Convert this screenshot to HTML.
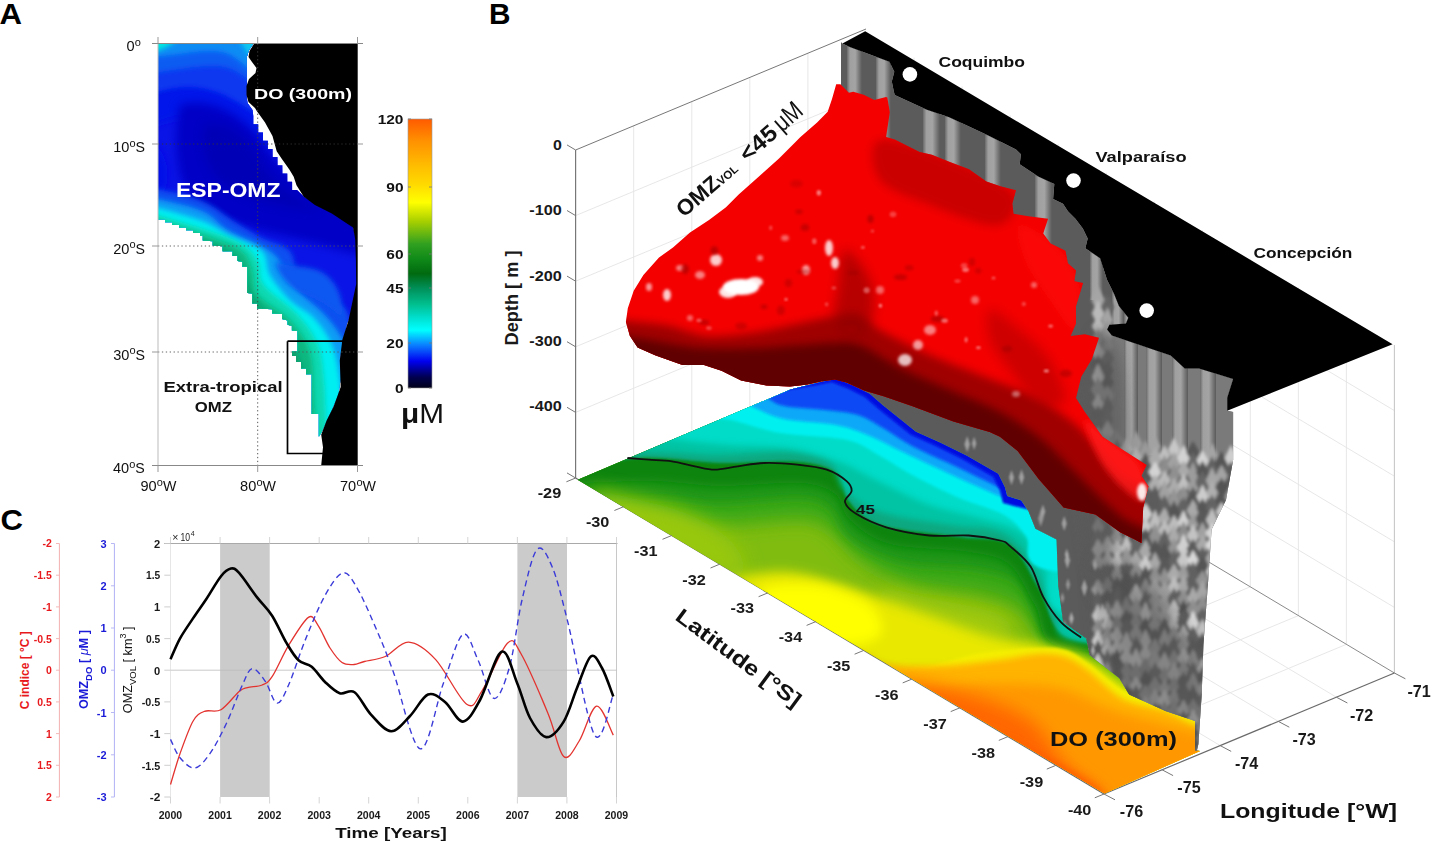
<!DOCTYPE html>
<html><head><meta charset="utf-8"><style>
html,body{margin:0;padding:0;background:#fff;width:1434px;height:849px;overflow:hidden}
svg{display:block}
text{font-family:"Liberation Sans",sans-serif}
.b{font-weight:bold}
.r{font-weight:normal}
.tk{font-weight:bold;fill:#1a1a1a}
</style></head><body>
<svg width="1434" height="849" viewBox="0 0 1434 849">
<rect width="1434" height="849" fill="#fff"/>
<text x="-0.5" y="24.3" class="b" font-size="30" fill="#000" textLength="22.5" lengthAdjust="spacingAndGlyphs">A</text>
<text x="489" y="24.3" class="b" font-size="30" fill="#000" textLength="21.5" lengthAdjust="spacingAndGlyphs">B</text>
<text x="0.5" y="529.8" class="b" font-size="30" fill="#000" textLength="22.5" lengthAdjust="spacingAndGlyphs">C</text>
<defs>
<filter id="fb8" x="-30%" y="-30%" width="160%" height="160%"><feGaussianBlur stdDeviation="9"/></filter>
<filter id="fb6" x="-30%" y="-30%" width="160%" height="160%"><feGaussianBlur stdDeviation="6"/></filter>
<filter id="fb4" x="-30%" y="-30%" width="160%" height="160%"><feGaussianBlur stdDeviation="4"/></filter>
<filter id="fb3" x="-30%" y="-30%" width="160%" height="160%"><feGaussianBlur stdDeviation="3"/></filter>
<filter id="fb2" x="-30%" y="-30%" width="160%" height="160%"><feGaussianBlur stdDeviation="1.6"/></filter>
<filter id="fb1" x="-30%" y="-30%" width="160%" height="160%"><feGaussianBlur stdDeviation="0.8"/></filter>
</defs>
<line x1="633.7" y1="125.8" x2="633.7" y2="453.8" stroke="#e4e4e4" stroke-width="0.9" />
<line x1="691.8" y1="101.6" x2="691.8" y2="429.6" stroke="#e4e4e4" stroke-width="0.9" />
<line x1="749.8" y1="77.4" x2="749.8" y2="405.4" stroke="#e4e4e4" stroke-width="0.9" />
<line x1="807.9" y1="53.2" x2="807.9" y2="381.2" stroke="#e4e4e4" stroke-width="0.9" />
<line x1="575.6" y1="215.6" x2="866" y2="94.6" stroke="#e4e4e4" stroke-width="0.9" />
<line x1="575.6" y1="281.2" x2="866" y2="160.2" stroke="#e4e4e4" stroke-width="0.9" />
<line x1="575.6" y1="346.8" x2="866" y2="225.8" stroke="#e4e4e4" stroke-width="0.9" />
<line x1="575.6" y1="412.4" x2="866" y2="291.4" stroke="#e4e4e4" stroke-width="0.9" />
<line x1="914" y1="57.7" x2="914" y2="385.7" stroke="#e4e4e4" stroke-width="0.9" />
<line x1="962.1" y1="86.5" x2="962.1" y2="414.5" stroke="#e4e4e4" stroke-width="0.9" />
<line x1="1010.1" y1="115.2" x2="1010.1" y2="443.2" stroke="#e4e4e4" stroke-width="0.9" />
<line x1="1058.2" y1="143.9" x2="1058.2" y2="471.9" stroke="#e4e4e4" stroke-width="0.9" />
<line x1="1106.2" y1="172.7" x2="1106.2" y2="500.6" stroke="#e4e4e4" stroke-width="0.9" />
<line x1="1154.2" y1="201.4" x2="1154.2" y2="529.4" stroke="#e4e4e4" stroke-width="0.9" />
<line x1="1202.3" y1="230.1" x2="1202.3" y2="558.1" stroke="#e4e4e4" stroke-width="0.9" />
<line x1="1250.3" y1="258.8" x2="1250.3" y2="586.8" stroke="#e4e4e4" stroke-width="0.9" />
<line x1="1298.4" y1="287.6" x2="1298.4" y2="615.6" stroke="#e4e4e4" stroke-width="0.9" />
<line x1="1346.4" y1="316.3" x2="1346.4" y2="644.3" stroke="#e4e4e4" stroke-width="0.9" />
<line x1="866" y1="94.6" x2="1394.4" y2="410.6" stroke="#e4e4e4" stroke-width="0.9" />
<line x1="866" y1="160.2" x2="1394.4" y2="476.2" stroke="#e4e4e4" stroke-width="0.9" />
<line x1="866" y1="225.8" x2="1394.4" y2="541.8" stroke="#e4e4e4" stroke-width="0.9" />
<line x1="866" y1="291.4" x2="1394.4" y2="607.4" stroke="#e4e4e4" stroke-width="0.9" />
<line x1="623.6" y1="506.7" x2="914" y2="385.7" stroke="#e4e4e4" stroke-width="0.9" />
<line x1="671.7" y1="535.5" x2="962.1" y2="414.5" stroke="#e4e4e4" stroke-width="0.9" />
<line x1="719.7" y1="564.2" x2="1010.1" y2="443.2" stroke="#e4e4e4" stroke-width="0.9" />
<line x1="767.8" y1="592.9" x2="1058.2" y2="471.9" stroke="#e4e4e4" stroke-width="0.9" />
<line x1="815.8" y1="621.6" x2="1106.2" y2="500.6" stroke="#e4e4e4" stroke-width="0.9" />
<line x1="863.8" y1="650.4" x2="1154.2" y2="529.4" stroke="#e4e4e4" stroke-width="0.9" />
<line x1="911.9" y1="679.1" x2="1202.3" y2="558.1" stroke="#e4e4e4" stroke-width="0.9" />
<line x1="959.9" y1="707.8" x2="1250.3" y2="586.8" stroke="#e4e4e4" stroke-width="0.9" />
<line x1="1008" y1="736.6" x2="1298.4" y2="615.6" stroke="#e4e4e4" stroke-width="0.9" />
<line x1="1056" y1="765.3" x2="1346.4" y2="644.3" stroke="#e4e4e4" stroke-width="0.9" />
<line x1="633.7" y1="453.8" x2="1162.1" y2="769.8" stroke="#e4e4e4" stroke-width="0.9" />
<line x1="691.8" y1="429.6" x2="1220.2" y2="745.6" stroke="#e4e4e4" stroke-width="0.9" />
<line x1="749.8" y1="405.4" x2="1278.3" y2="721.4" stroke="#e4e4e4" stroke-width="0.9" />
<line x1="807.9" y1="381.2" x2="1336.4" y2="697.2" stroke="#e4e4e4" stroke-width="0.9" />
<line x1="575.6" y1="150" x2="866" y2="29" stroke="#777" stroke-width="1.0" />
<line x1="1394.4" y1="345" x2="1394.4" y2="673" stroke="#c8c8c8" stroke-width="1.1" />
<line x1="866" y1="357" x2="1394.4" y2="673" stroke="#8a8a8a" stroke-width="1.0" />
<line x1="575.6" y1="150" x2="575.6" y2="478" stroke="#777" stroke-width="1.2" />
<line x1="575.6" y1="478" x2="1104" y2="794" stroke="#6a6a6a" stroke-width="1.2" />
<line x1="1104" y1="794" x2="1394.4" y2="673" stroke="#6a6a6a" stroke-width="1.2" />
<defs><clipPath id="floorclip"><path d="M577.8 479.8 L790.6 389.5 L820.2 382.2 L836.7 378.9 L853.2 385.5 L869.7 393.7 L882.9 405.3 L915.9 431.7 L940 442.4 L966.9 455.8 L998.2 473.7 L1004.9 487.2 L1007.2 496.1 L1021.2 500.5 L1028.3 511 L1035.4 528.7 L1056.5 539.4 L1058.2 585.6 L1063.1 621.9 L1086.2 638.4 L1089.5 654.9 L1119.2 678 L1129.1 694.5 L1165.4 711 L1195.1 720.9 L1195.1 750.6 L1200 751 L1104.5 793.5Z"/></clipPath></defs>
<g clip-path="url(#floorclip)"><rect x="560" y="360" width="660" height="450" fill="#80bc10"/><path d="M560 520 C573.3 519.2 613.3 514.2 640 515 C666.7 515.8 693.3 524.2 720 525 C746.7 525.8 781.7 519.2 800 520 C818.3 520.8 820 523.3 830 530 C840 536.7 846.7 550.8 860 560 C873.3 569.2 890 579.2 910 585 C930 590.8 961.7 590.8 980 595 C998.3 599.2 1009.2 601.7 1020 610 C1030.8 618.3 1035.8 634.2 1045 645 C1054.2 655.8 1045.8 668.3 1075 675 C1104.2 681.7 1195.8 683.3 1220 685 L1220 340 L560 340 Z" fill="#3aa818" filter="url(#fb8)"/><path d="M560 500 C575 499.5 623.3 496.5 650 497 C676.7 497.5 695 502.8 720 503 C745 503.2 781.7 497.2 800 498 C818.3 498.8 821.7 501.3 830 508 C838.3 514.7 838.3 529 850 538 C861.7 547 878.3 556.7 900 562 C921.7 567.3 960 566.2 980 570 C1000 573.8 1010 575.8 1020 585 C1030 594.2 1031.7 612.8 1040 625 C1048.3 637.2 1040 650.8 1070 658 C1100 665.2 1195 666.3 1220 668 L1220 340 L560 340 Z" fill="#1a9418" filter="url(#fb6)"/><path d="M560 484 C575 483.5 623.3 480.7 650 481 C676.7 481.3 695 485.7 720 486 C745 486.3 780.8 481.7 800 483 C819.2 484.3 826.7 487.8 835 494 C843.3 500.2 840.8 511.7 850 520 C859.2 528.3 870 538.7 890 544 C910 549.3 950 548.5 970 552 C990 555.5 999.2 556.2 1010 565 C1020.8 573.8 1025.8 591.2 1035 605 C1044.2 618.8 1034.2 640.5 1065 648 C1095.8 655.5 1194.2 649.7 1220 650 L1220 340 L560 340 Z" fill="#0a8410" filter="url(#fb4)"/><path d="M590 492 C593.3 487.8 623.3 496.2 640 500 C656.7 503.8 675 508.3 690 515 C705 521.7 720.8 530.8 730 540 C739.2 549.2 746.7 564.2 745 570 C743.3 575.8 732.5 577.5 720 575 C707.5 572.5 686.7 563.3 670 555 C653.3 546.7 633.3 535.5 620 525 C606.7 514.5 586.7 496.2 590 492Z" fill="#98c808" filter="url(#fb8)"/><path d="M880 590 C886.7 585.8 920 595.8 940 600 C960 604.2 988.3 608.3 1000 615 C1011.7 621.7 1016.7 635 1010 640 C1003.3 645 978.3 647.5 960 645 C941.7 642.5 913.3 634.2 900 625 C886.7 615.8 873.3 594.2 880 590Z" fill="#a8cc08" filter="url(#fb8)" opacity="0.8"/><path d="M560 470 C573.3 468 613.3 459.2 640 458 C666.7 456.8 693.3 462.3 720 463 C746.7 463.7 780 460 800 462 C820 464 832 468.7 840 475 C848 481.3 841.3 491.7 848 500 C854.7 508.3 861.3 518.8 880 525 C898.7 531.2 938.3 533.7 960 537 C981.7 540.3 996.7 536.2 1010 545 C1023.3 553.8 1029.2 574.2 1040 590 C1050.8 605.8 1045 630 1075 640 C1105 650 1195.8 648.3 1220 650 L1220 340 L560 340 Z" fill="#0ca880" filter="url(#fb2)"/><path d="M560 456 C575 455.3 623.3 452.2 650 452 C676.7 451.8 696.7 455 720 455 C743.3 455 771.7 450.8 790 452 C808.3 453.2 820.8 455.7 830 462 C839.2 468.3 836.7 481.7 845 490 C853.3 498.3 862.5 506.2 880 512 C897.5 517.8 930 521.7 950 525 C970 528.3 986.7 526.2 1000 532 C1013.3 537.8 1020.8 547 1030 560 C1039.2 573 1047.5 596.7 1055 610 C1062.5 623.3 1047.5 635 1075 640 C1102.5 645 1195.8 640 1220 640 L1220 340 L560 340 Z" fill="#00c4a4" filter="url(#fb3)"/><path d="M600 430 C613.3 431.7 658.3 437.5 680 440 C701.7 442.5 711.7 443.7 730 445 C748.3 446.3 771.7 445.2 790 448 C808.3 450.8 825 456.3 840 462 C855 467.7 865 474.8 880 482 C895 489.2 913.3 499 930 505 C946.7 511 965 513.5 980 518 C995 522.5 1009.2 524.2 1020 532 C1030.8 539.8 1037.5 551.2 1045 565 C1052.5 578.8 1035.8 605 1065 615 C1094.2 625 1194.2 623.3 1220 625 L1220 340 L600 340 Z" fill="#00dcc8" filter="url(#fb3)"/><path d="M700 420 C705 420 716.7 417.8 730 420 C743.3 422.2 760.5 429.7 780 433 C799.5 436.3 830.3 436.2 847 440 C863.7 443.8 868.8 450 880 456 C891.2 462 900.8 469 914 476 C927.2 483 944 491.5 959 498 C974 504.5 992.8 508.7 1004 515 C1015.2 521.3 1018.7 526.8 1026 536 C1033.3 545.2 1015.7 562.7 1048 570 C1080.3 577.3 1191.3 578.3 1220 580 L1220 340 L700 340 Z" fill="#00f0f0" filter="url(#fb2)"/><path d="M740 400 C746.7 403 764 413.8 780 418 C796 422.2 821 422 836 425 C851 428 858.8 431.5 870 436 C881.2 440.5 891.8 446.7 903 452 C914.2 457.3 924 462 937 468 C950 474 968.8 482.7 981 488 C993.2 493.3 1001.8 497.2 1010 500 C1018.2 502.8 995 504.2 1030 505 C1065 505.8 1188.3 505 1220 505 L1220 340 L740 340 Z" fill="#0aa8f8" filter="url(#fb2)"/><path d="M760 390 C763.3 392.5 769.2 401.7 780 405 C790.8 408.3 812 408.3 825 410 C838 411.7 848.3 412 858 415 C867.7 418 873.7 422.7 883 428 C892.3 433.3 901.3 440.3 914 447 C926.7 453.7 944 460.8 959 468 C974 475.2 993.8 484.7 1004 490 C1014.2 495.3 1014 498.7 1020 500 C1026 501.3 1006.7 498.3 1040 498 C1073.3 497.7 1190 498 1220 498 L1220 340 L760 340 Z" fill="#0a48f4" filter="url(#fb2)"/><path d="M790.6 387.2 L820.2 382.2 L836.7 378.9 L853.2 385.5 L869.7 393.7 L882.9 405.3 L915.9 431.7 L940 442.4 L966.9 455.8 L998.2 473.7 L1004.9 487.2 L1008 500 L1240 560 L1240 340 L780 340Z" fill="#0008e0" filter="url(#fb1)" transform="translate(-5 3)"/><path d="M735 578 C742.5 575 770.8 570.3 790 572 C809.2 573.7 828.3 581.3 850 588 C871.7 594.7 896.7 604 920 612 C943.3 620 968.3 630.3 990 636 C1011.7 641.7 1033.3 642.3 1050 646 C1066.7 649.7 1076.7 651 1090 658 C1103.3 665 1115 679 1130 688 C1145 697 1165.8 706.3 1180 712 C1194.2 717.7 1209.2 712.3 1215 722 C1220.8 731.7 1270.8 779 1215 770 C1159.2 761 958.3 698 880 668 C801.7 638 769.2 605 745 590 C720.8 575 727.5 581 735 578Z" fill="#e8e800" filter="url(#fb6)"/><path d="M760 590 C765 583.3 801.7 582.5 820 585 C838.3 587.5 860 596.7 870 605 C880 613.3 885 628.3 880 635 C875 641.7 855 646.7 840 645 C825 643.3 803.3 634.2 790 625 C776.7 615.8 755 596.7 760 590Z" fill="#ffff00" filter="url(#fb6)"/><path d="M560 600 C600 606.7 743.3 628.7 800 640 C856.7 651.3 869.8 665.8 900 668 C930.2 670.2 958 656.3 981 653 C1004 649.7 1023.8 648.5 1038 648 C1052.2 647.5 1057.5 647.3 1066 650 C1074.5 652.7 1079.5 657.3 1089 664 C1098.5 670.7 1110.3 683.2 1123 690 C1135.7 696.8 1148.8 700.8 1165 705 C1181.2 709.2 1210.8 713.3 1220 715 L1220 820 L560 820 Z" fill="#f4ee00" filter="url(#fb2)"/><path d="M560 600 C605 607.5 775.8 634.3 830 645 C884.2 655.7 866.7 660.5 885 664 C903.3 667.5 921.2 666.7 940 666 C958.8 665.3 981.7 662 998 660 C1014.3 658 1026.7 654.5 1038 654 C1049.3 653.5 1057.5 654.2 1066 657 C1074.5 659.8 1079.5 664 1089 671 C1098.5 678 1110.3 692.3 1123 699 C1135.7 705.7 1153.3 706.7 1165 711 C1176.7 715.3 1183.8 721.3 1193 725 C1202.2 728.7 1215.5 731.7 1220 733 L1220 820 L560 820 Z" fill="#ffb400" filter="url(#fb3)"/><path d="M560 615 C608.3 624.2 790 657.8 850 670 C910 682.2 896.7 685.7 920 688 C943.3 690.3 966.7 684 990 684 C1013.3 684 1038.3 683.3 1060 688 C1081.7 692.7 1093.3 703.7 1120 712 C1146.7 720.3 1203.3 733.7 1220 738 L1220 820 L560 820 Z" fill="#ff9800" filter="url(#fb6)"/><path d="M885 682 C893.3 678.2 935.8 685.7 960 692 C984.2 698.3 1012.5 707.8 1030 720 C1047.5 732.2 1052.7 751.7 1065 765 C1077.3 778.3 1114.8 799.2 1104 800 C1093.2 800.8 1032.3 784.2 1000 770 C967.7 755.8 929.2 729.7 910 715 C890.8 700.3 876.7 685.8 885 682Z" fill="#ff6600" filter="url(#fb8)"/><path d="M1000 740 C1001.7 735 1032.7 750.8 1050 760 C1067.3 769.2 1105.7 790 1104 795 C1102.3 800 1057.3 799.2 1040 790 C1022.7 780.8 998.3 745 1000 740Z" fill="#ff5a00" filter="url(#fb4)"/></g>
<path d="M627.4 458 C631 458.3 641.4 459.1 648.8 459.7 C656.2 460.2 664.2 460.2 671.9 461.3 C679.6 462.4 687.9 464.9 695 466.3 C702.1 467.7 707.6 469.6 714.7 469.6 C721.8 469.6 729.5 467.4 737.8 466.3 C746 465.2 754.3 463.3 764.2 463 C774.1 462.7 786.8 463.5 797.2 464.6 C807.6 465.7 818.6 466.9 826.8 469.6 C835 472.4 842.5 477.5 846.6 481.1 C850.7 484.7 851.9 487.5 851.6 491 C851.3 494.5 844.2 498.1 845 502 C845.8 505.9 849.6 509.9 856.5 514.1 C863.4 518.3 874.1 523.7 886.2 527.3 C898.3 530.9 915.4 534.1 929.1 535.5 C942.8 536.9 956.8 534.7 968.6 535.5 C980.4 536.3 993 538.7 1000 540.5 C1007 542.3 1005.2 542 1010.3 546.4 C1015.4 550.8 1025.1 558.2 1030.6 566.6 C1036.1 575 1038.2 587.6 1043.2 596.9 C1048.2 606.2 1054.6 615.5 1060.9 622.2 C1067.2 629 1077.7 634.9 1081.1 637.4" fill="none" stroke="#111" stroke-width="1.8"/>
<text x="856" y="513.5" class="b" font-size="13.5" fill="#111" textLength="19" lengthAdjust="spacingAndGlyphs">45</text>
<defs><clipPath id="wallclip"><path d="M841 42 L842.4 43.5 L849.8 47 L889.4 61.8 L894.3 71.7 L891.8 81.6 L893.5 90 L894.7 95 L926.9 109.8 L949.2 117.2 L988.8 135.8 L1016 149.4 L1020.9 154.3 L1019.7 164.2 L1038.2 176.6 L1054.3 184 L1053.1 198.9 L1063 203.8 L1067.9 211.2 L1075.4 218.7 L1082.8 228.6 L1087.7 238.5 L1085.3 248.3 L1100.1 258.2 L1107.1 280 L1114.1 294.1 L1118.9 305.9 L1128.3 317.7 L1125.9 323.6 L1109.4 324.8 L1107.1 329.5 L1111.8 335.4 L1135.3 343.6 L1170.7 355.4 L1184.8 368.4 L1199 368.4 L1217.8 374.3 L1233.1 379 L1227.2 397.8 L1227.2 410.8 L1233.1 412 L1233.1 460 L1226 500 L1211.6 529.5 L1208.3 579 L1203.4 645 L1201.7 694.5 L1198.4 744 L1196.8 751 L1200 751 L1195.1 750.6 L1195.1 720.9 L1165.4 711 L1129.1 694.5 L1119.2 678 L1089.5 654.9 L1086.2 638.4 L1063.1 621.9 L1058.2 585.6 L1056.5 539.4 L1035.4 528.7 L1028.3 511 L1021.2 500.5 L1007.2 496.1 L1004.9 487.2 L998.2 473.7 L966.9 455.8 L940 442.4 L915.9 431.7 L882.9 405.3 L869.7 393.7 L853.2 385.5 L836.7 378.9 L820.2 382.2 L790.6 387.2 L841 367Z"/></clipPath>
<linearGradient id="stripe" x1="0" y1="0" x2="1" y2="0"><stop offset="0" stop-color="#6a6a6a"/><stop offset="0.2" stop-color="#a0a0a0"/><stop offset="0.55" stop-color="#a4a4a4"/><stop offset="0.8" stop-color="#7a7a7a"/><stop offset="1" stop-color="#5a5a5a"/></linearGradient></defs>
<g clip-path="url(#wallclip)"><rect x="830" y="30" width="420" height="730" fill="#5b5b5b"/><path d="M1108 330 L1240 370 L1240 470 L1108 450 Z" fill="#7a7a7a" filter="url(#fb3)"/><rect x="847" y="30" width="15" height="90" fill="url(#stripe)"/><rect x="876" y="30" width="15" height="120" fill="url(#stripe)"/><rect x="923" y="30" width="17" height="160" fill="url(#stripe)"/><rect x="945" y="30" width="16" height="170" fill="url(#stripe)"/><rect x="985" y="30" width="16" height="200" fill="url(#stripe)"/><rect x="1035" y="30" width="17" height="240" fill="url(#stripe)"/><rect x="1090" y="30" width="13" height="270" fill="url(#stripe)"/><rect x="1112" y="30" width="12" height="300" fill="url(#stripe)"/><rect x="1124" y="30" width="14" height="420" fill="url(#stripe)"/><rect x="1146" y="30" width="16" height="425" fill="url(#stripe)"/><rect x="1172" y="30" width="16" height="430" fill="url(#stripe)"/><rect x="1200" y="30" width="16" height="440" fill="url(#stripe)"/><g filter="url(#fb2)"><path d="M1098 286.2 l6.7 13.8 l-6.7 13.8 l-6.7 -13.8 Z" fill="#a5a5a5"/><path d="M1098 299.4 l6.2 13.8 l-6.2 13.8 l-6.2 -13.8 Z" fill="#bababa"/><path d="M1098 315.2 l6.2 11 l-6.2 11 l-6.2 -11 Z" fill="#bcbcbc"/><path d="M1098 327.7 l5.8 11.1 l-5.8 11.1 l-5.8 -11.1 Z" fill="#8c8c8c"/><path d="M1098 342 l6.7 10.6 l-6.7 10.6 l-6.7 -10.6 Z" fill="#bebebe"/><path d="M1098 354.6 l6.8 10.8 l-6.8 10.8 l-6.8 -10.8 Z" fill="#505050"/><path d="M1098 363.2 l5.9 13.8 l-5.9 13.8 l-5.9 -13.8 Z" fill="#d7d7d7"/><path d="M1098 376.9 l6.9 12.8 l-6.9 12.8 l-6.9 -12.8 Z" fill="#939393"/><path d="M1098 392.9 l6 10.7 l-6 10.7 l-6 -10.7 Z" fill="#c3c3c3"/><path d="M1098 405 l6.4 10 l-6.4 10 l-6.4 -10 Z" fill="#575757"/><path d="M1098 416.1 l6.7 11.9 l-6.7 11.9 l-6.7 -11.9 Z" fill="#575757"/><path d="M1098 426.1 l5.6 13.9 l-5.6 13.9 l-5.6 -13.9 Z" fill="#a4a4a4"/><path d="M1098 437.9 l5.5 13.2 l-5.5 13.2 l-5.5 -13.2 Z" fill="#a9a9a9"/><path d="M1098 452.4 l5.6 10.7 l-5.6 10.7 l-5.6 -10.7 Z" fill="#8c8c8c"/><path d="M1098 463.2 l6.9 13.8 l-6.9 13.8 l-6.9 -13.8 Z" fill="#626262"/><path d="M1098 478.6 l6.7 10.4 l-6.7 10.4 l-6.7 -10.4 Z" fill="#9e9e9e"/><path d="M1098 488.5 l5.6 13.8 l-5.6 13.8 l-5.6 -13.8 Z" fill="#d7d7d7"/><path d="M1098 502.2 l6.9 11.4 l-6.9 11.4 l-6.9 -11.4 Z" fill="#5f5f5f"/><path d="M1098 516.6 l6 10.7 l-6 10.7 l-6 -10.7 Z" fill="#969696"/><path d="M1098 527.9 l7 10.6 l-7 10.6 l-7 -10.6 Z" fill="#616161"/><path d="M1098 538.8 l6.1 10.9 l-6.1 10.9 l-6.1 -10.9 Z" fill="#cbcbcb"/><path d="M1098 552.3 l6.1 10.2 l-6.1 10.2 l-6.1 -10.2 Z" fill="#c8c8c8"/><path d="M1098 565.7 l6.8 10.5 l-6.8 10.5 l-6.8 -10.5 Z" fill="#5c5c5c"/><path d="M1098 579 l6.7 10.4 l-6.7 10.4 l-6.7 -10.4 Z" fill="#cfcfcf"/><path d="M1098 589.9 l5.9 11.8 l-5.9 11.8 l-5.9 -11.8 Z" fill="#656565"/><path d="M1098 603.8 l6.2 12 l-6.2 12 l-6.2 -12 Z" fill="#dbdbdb"/><path d="M1098 618.3 l6.1 10.6 l-6.1 10.6 l-6.1 -10.6 Z" fill="#969696"/><path d="M1098 629.1 l6.4 12 l-6.4 12 l-6.4 -12 Z" fill="#dadada"/><path d="M1098 639.6 l6.7 13.5 l-6.7 13.5 l-6.7 -13.5 Z" fill="#565656"/><path d="M1098 652.5 l6.5 12.7 l-6.5 12.7 l-6.5 -12.7 Z" fill="#d4d4d4"/><path d="M1098 666.5 l5.9 11.9 l-5.9 11.9 l-5.9 -11.9 Z" fill="#a4a4a4"/><path d="M1098 679.2 l6.9 12.6 l-6.9 12.6 l-6.9 -12.6 Z" fill="#969696"/><path d="M1098 691.8 l5.9 12.7 l-5.9 12.7 l-5.9 -12.7 Z" fill="#5d5d5d"/><path d="M1098 705.5 l6.7 11.4 l-6.7 11.4 l-6.7 -11.4 Z" fill="#cfcfcf"/><path d="M1098 716.4 l6 13.4 l-6 13.4 l-6 -13.4 Z" fill="#a8a8a8"/><path d="M1098 731.4 l6.9 12.1 l-6.9 12.1 l-6.9 -12.1 Z" fill="#aeaeae"/><path d="M1107.5 295.1 l6.9 11.9 l-6.9 11.9 l-6.9 -11.9 Z" fill="#646464"/><path d="M1107.5 307 l5.8 13.1 l-5.8 13.1 l-5.8 -13.1 Z" fill="#a5a5a5"/><path d="M1107.5 319.7 l6.4 13.1 l-6.4 13.1 l-6.4 -13.1 Z" fill="#9a9a9a"/><path d="M1107.5 334 l5.7 11.8 l-5.7 11.8 l-5.7 -11.8 Z" fill="#8c8c8c"/><path d="M1107.5 348.5 l6.4 10.2 l-6.4 10.2 l-6.4 -10.2 Z" fill="#616161"/><path d="M1107.5 359.8 l5.7 11.3 l-5.7 11.3 l-5.7 -11.3 Z" fill="#515151"/><path d="M1107.5 371.1 l6.2 11.5 l-6.2 11.5 l-6.2 -11.5 Z" fill="#505050"/><path d="M1107.5 385.5 l6.9 10 l-6.9 10 l-6.9 -10 Z" fill="#949494"/><path d="M1107.5 394.4 l5.7 13.3 l-5.7 13.3 l-5.7 -13.3 Z" fill="#5a5a5a"/><path d="M1107.5 407.6 l5.6 12.2 l-5.6 12.2 l-5.6 -12.2 Z" fill="#5f5f5f"/><path d="M1107.5 420.2 l6.7 11.7 l-6.7 11.7 l-6.7 -11.7 Z" fill="#adadad"/><path d="M1107.5 432.9 l5.7 12.4 l-5.7 12.4 l-5.7 -12.4 Z" fill="#989898"/><path d="M1107.5 446.6 l6.4 11.4 l-6.4 11.4 l-6.4 -11.4 Z" fill="#dadada"/><path d="M1107.5 459.2 l6.3 12.5 l-6.3 12.5 l-6.3 -12.5 Z" fill="#525252"/><path d="M1107.5 471.3 l6.1 11.7 l-6.1 11.7 l-6.1 -11.7 Z" fill="#ababab"/><path d="M1107.5 480.9 l6.1 13.8 l-6.1 13.8 l-6.1 -13.8 Z" fill="#686868"/><path d="M1107.5 496.5 l7 12 l-7 12 l-7 -12 Z" fill="#959595"/><path d="M1107.5 509.6 l6.2 11.1 l-6.2 11.1 l-6.2 -11.1 Z" fill="#686868"/><path d="M1107.5 522 l6.2 11.2 l-6.2 11.2 l-6.2 -11.2 Z" fill="#5f5f5f"/><path d="M1107.5 535.4 l6.3 11.1 l-6.3 11.1 l-6.3 -11.1 Z" fill="#b9b9b9"/><path d="M1107.5 549.7 l5.9 10.6 l-5.9 10.6 l-5.9 -10.6 Z" fill="#c1c1c1"/><path d="M1107.5 561.7 l6.2 12.6 l-6.2 12.6 l-6.2 -12.6 Z" fill="#5f5f5f"/><path d="M1107.5 575.9 l6.6 11.2 l-6.6 11.2 l-6.6 -11.2 Z" fill="#909090"/><path d="M1107.5 587.8 l6.3 11.9 l-6.3 11.9 l-6.3 -11.9 Z" fill="#575757"/><path d="M1107.5 600.8 l5.6 11 l-5.6 11 l-5.6 -11 Z" fill="#a0a0a0"/><path d="M1107.5 614.1 l6.3 10.1 l-6.3 10.1 l-6.3 -10.1 Z" fill="#d8d8d8"/><path d="M1107.5 624.9 l6.6 12.5 l-6.6 12.5 l-6.6 -12.5 Z" fill="#a0a0a0"/><path d="M1107.5 636.5 l6.1 13.4 l-6.1 13.4 l-6.1 -13.4 Z" fill="#c6c6c6"/><path d="M1107.5 648.2 l5.6 13.3 l-5.6 13.3 l-5.6 -13.3 Z" fill="#646464"/><path d="M1107.5 660.9 l6.7 13.6 l-6.7 13.6 l-6.7 -13.6 Z" fill="#969696"/><path d="M1107.5 674.7 l6.2 11.3 l-6.2 11.3 l-6.2 -11.3 Z" fill="#9f9f9f"/><path d="M1107.5 686.6 l5.6 10.9 l-5.6 10.9 l-5.6 -10.9 Z" fill="#a8a8a8"/><path d="M1107.5 698 l5.5 12.9 l-5.5 12.9 l-5.5 -12.9 Z" fill="#d0d0d0"/><path d="M1107.5 711.5 l5.6 13.4 l-5.6 13.4 l-5.6 -13.4 Z" fill="#d1d1d1"/><path d="M1107.5 726 l6.6 10.5 l-6.6 10.5 l-6.6 -10.5 Z" fill="#adadad"/><path d="M1107.5 736.8 l6.4 11.7 l-6.4 11.7 l-6.4 -11.7 Z" fill="#bebebe"/><path d="M1117 429.2 l5.7 11.5 l-5.7 11.5 l-5.7 -11.5 Z" fill="#8d8d8d"/><path d="M1117 438.5 l6.6 13.5 l-6.6 13.5 l-6.6 -13.5 Z" fill="#5e5e5e"/><path d="M1117 451.4 l6.4 12 l-6.4 12 l-6.4 -12 Z" fill="#979797"/><path d="M1117 466.6 l6.5 10.6 l-6.5 10.6 l-6.5 -10.6 Z" fill="#8d8d8d"/><path d="M1117 477.6 l6.3 12.5 l-6.3 12.5 l-6.3 -12.5 Z" fill="#ababab"/><path d="M1117 489.8 l6.6 12.1 l-6.6 12.1 l-6.6 -12.1 Z" fill="#949494"/><path d="M1117 502.6 l6.6 10.7 l-6.6 10.7 l-6.6 -10.7 Z" fill="#595959"/><path d="M1117 516 l6.5 10.4 l-6.5 10.4 l-6.5 -10.4 Z" fill="#8e8e8e"/><path d="M1117 525.9 l6.8 11.9 l-6.8 11.9 l-6.8 -11.9 Z" fill="#949494"/><path d="M1117 539.5 l6.6 10.2 l-6.6 10.2 l-6.6 -10.2 Z" fill="#bababa"/><path d="M1117 550.7 l5.8 10.5 l-5.8 10.5 l-5.8 -10.5 Z" fill="#d0d0d0"/><path d="M1117 562.6 l5.7 12.5 l-5.7 12.5 l-5.7 -12.5 Z" fill="#a8a8a8"/><path d="M1117 575.8 l6.4 11.4 l-6.4 11.4 l-6.4 -11.4 Z" fill="#585858"/><path d="M1117 586.1 l6.5 13.2 l-6.5 13.2 l-6.5 -13.2 Z" fill="#646464"/><path d="M1117 599.4 l6.4 12.3 l-6.4 12.3 l-6.4 -12.3 Z" fill="#cbcbcb"/><path d="M1117 614.1 l5.5 10.8 l-5.5 10.8 l-5.5 -10.8 Z" fill="#8f8f8f"/><path d="M1117 626 l6.6 10 l-6.6 10 l-6.6 -10 Z" fill="#c9c9c9"/><path d="M1117 636.5 l6.1 11.9 l-6.1 11.9 l-6.1 -11.9 Z" fill="#cecece"/><path d="M1117 648.2 l6.1 11.5 l-6.1 11.5 l-6.1 -11.5 Z" fill="#535353"/><path d="M1117 662.7 l5.9 10.6 l-5.9 10.6 l-5.9 -10.6 Z" fill="#565656"/><path d="M1117 671.5 l5.5 13.7 l-5.5 13.7 l-5.5 -13.7 Z" fill="#5c5c5c"/><path d="M1117 685.4 l6.5 11.9 l-6.5 11.9 l-6.5 -11.9 Z" fill="#d1d1d1"/><path d="M1117 698.4 l5.9 12.7 l-5.9 12.7 l-5.9 -12.7 Z" fill="#606060"/><path d="M1117 713.4 l5.5 10.9 l-5.5 10.9 l-5.5 -10.9 Z" fill="#555555"/><path d="M1117 724.3 l6 11.2 l-6 11.2 l-6 -11.2 Z" fill="#aeaeae"/><path d="M1117 737.3 l6.6 10.7 l-6.6 10.7 l-6.6 -10.7 Z" fill="#626262"/><path d="M1126.5 437.5 l6.5 11.7 l-6.5 11.7 l-6.5 -11.7 Z" fill="#acacac"/><path d="M1126.5 451.5 l6.7 11.6 l-6.7 11.6 l-6.7 -11.6 Z" fill="#515151"/><path d="M1126.5 462.8 l6.3 11.4 l-6.3 11.4 l-6.3 -11.4 Z" fill="#aeaeae"/><path d="M1126.5 471.8 l6.2 13.7 l-6.2 13.7 l-6.2 -13.7 Z" fill="#666666"/><path d="M1126.5 486.4 l6.1 10.2 l-6.1 10.2 l-6.1 -10.2 Z" fill="#515151"/><path d="M1126.5 498.3 l5.6 10.2 l-5.6 10.2 l-5.6 -10.2 Z" fill="#969696"/><path d="M1126.5 510.2 l6.1 12.1 l-6.1 12.1 l-6.1 -12.1 Z" fill="#5c5c5c"/><path d="M1126.5 519.9 l6.3 13.7 l-6.3 13.7 l-6.3 -13.7 Z" fill="#525252"/><path d="M1126.5 534.2 l5.5 12.2 l-5.5 12.2 l-5.5 -12.2 Z" fill="#c0c0c0"/><path d="M1126.5 546 l6.4 12.9 l-6.4 12.9 l-6.4 -12.9 Z" fill="#999999"/><path d="M1126.5 561.7 l6.7 10.9 l-6.7 10.9 l-6.7 -10.9 Z" fill="#5b5b5b"/><path d="M1126.5 570.7 l6.7 13.3 l-6.7 13.3 l-6.7 -13.3 Z" fill="#525252"/><path d="M1126.5 585.6 l5.9 10.3 l-5.9 10.3 l-5.9 -10.3 Z" fill="#525252"/><path d="M1126.5 595.4 l5.6 12.8 l-5.6 12.8 l-5.6 -12.8 Z" fill="#949494"/><path d="M1126.5 608.9 l6.1 10.4 l-6.1 10.4 l-6.1 -10.4 Z" fill="#575757"/><path d="M1126.5 618 l6.3 13.6 l-6.3 13.6 l-6.3 -13.6 Z" fill="#626262"/><path d="M1126.5 631.3 l6.2 13.3 l-6.2 13.3 l-6.2 -13.3 Z" fill="#cdcdcd"/><path d="M1126.5 646.4 l6.6 11.1 l-6.6 11.1 l-6.6 -11.1 Z" fill="#d2d2d2"/><path d="M1126.5 660.3 l5.6 10.7 l-5.6 10.7 l-5.6 -10.7 Z" fill="#909090"/><path d="M1126.5 669.7 l5.6 13.1 l-5.6 13.1 l-5.6 -13.1 Z" fill="#959595"/><path d="M1126.5 684 l5.7 11.4 l-5.7 11.4 l-5.7 -11.4 Z" fill="#515151"/><path d="M1126.5 697.3 l5.8 11.7 l-5.8 11.7 l-5.8 -11.7 Z" fill="#cecece"/><path d="M1126.5 707.8 l6.4 13.3 l-6.4 13.3 l-6.4 -13.3 Z" fill="#505050"/><path d="M1126.5 721.4 l5.8 12.8 l-5.8 12.8 l-5.8 -12.8 Z" fill="#5d5d5d"/><path d="M1126.5 735.3 l5.7 11.3 l-5.7 11.3 l-5.7 -11.3 Z" fill="#d4d4d4"/><path d="M1136 430.5 l6.2 13.1 l-6.2 13.1 l-6.2 -13.1 Z" fill="#9b9b9b"/><path d="M1136 447 l6.4 10.4 l-6.4 10.4 l-6.4 -10.4 Z" fill="#adadad"/><path d="M1136 460.7 l7 10.1 l-7 10.1 l-7 -10.1 Z" fill="#8d8d8d"/><path d="M1136 472.7 l6.1 10.9 l-6.1 10.9 l-6.1 -10.9 Z" fill="#aaaaaa"/><path d="M1136 482.4 l6 13 l-6 13 l-6 -13 Z" fill="#5e5e5e"/><path d="M1136 493.8 l7 13.4 l-7 13.4 l-7 -13.4 Z" fill="#949494"/><path d="M1136 507.4 l5.7 13.3 l-5.7 13.3 l-5.7 -13.3 Z" fill="#9a9a9a"/><path d="M1136 520.3 l5.6 12.9 l-5.6 12.9 l-5.6 -12.9 Z" fill="#545454"/><path d="M1136 534.1 l6 12.7 l-6 12.7 l-6 -12.7 Z" fill="#636363"/><path d="M1136 550.4 l6.1 10 l-6.1 10 l-6.1 -10 Z" fill="#a8a8a8"/><path d="M1136 561.7 l6.1 11.3 l-6.1 11.3 l-6.1 -11.3 Z" fill="#929292"/><path d="M1136 571.3 l6.2 12.8 l-6.2 12.8 l-6.2 -12.8 Z" fill="#595959"/><path d="M1136 583.5 l6.9 12.8 l-6.9 12.8 l-6.9 -12.8 Z" fill="#d5d5d5"/><path d="M1136 596.9 l6 12.4 l-6 12.4 l-6 -12.4 Z" fill="#a7a7a7"/><path d="M1136 612 l5.6 10.3 l-5.6 10.3 l-5.6 -10.3 Z" fill="#959595"/><path d="M1136 623.2 l6.6 11.2 l-6.6 11.2 l-6.6 -11.2 Z" fill="#a6a6a6"/><path d="M1136 635.2 l5.6 13 l-5.6 13 l-5.6 -13 Z" fill="#616161"/><path d="M1136 647.8 l6.5 13.4 l-6.5 13.4 l-6.5 -13.4 Z" fill="#d8d8d8"/><path d="M1136 660.8 l6.3 13.6 l-6.3 13.6 l-6.3 -13.6 Z" fill="#939393"/><path d="M1136 676.1 l6.1 10 l-6.1 10 l-6.1 -10 Z" fill="#cccccc"/><path d="M1136 684.6 l6.8 13.6 l-6.8 13.6 l-6.8 -13.6 Z" fill="#606060"/><path d="M1136 698.9 l6.5 12.2 l-6.5 12.2 l-6.5 -12.2 Z" fill="#8f8f8f"/><path d="M1136 713 l5.8 11.2 l-5.8 11.2 l-5.8 -11.2 Z" fill="#ababab"/><path d="M1136 723.5 l5.8 12.5 l-5.8 12.5 l-5.8 -12.5 Z" fill="#ababab"/><path d="M1136 736 l6.3 13.3 l-6.3 13.3 l-6.3 -13.3 Z" fill="#515151"/><path d="M1145.5 439.9 l6.1 12.1 l-6.1 12.1 l-6.1 -12.1 Z" fill="#9a9a9a"/><path d="M1145.5 451.9 l6.4 13.9 l-6.4 13.9 l-6.4 -13.9 Z" fill="#575757"/><path d="M1145.5 464.9 l6.3 12.4 l-6.3 12.4 l-6.3 -12.4 Z" fill="#525252"/><path d="M1145.5 476.1 l6.5 12.8 l-6.5 12.8 l-6.5 -12.8 Z" fill="#5e5e5e"/><path d="M1145.5 488.2 l6.8 13.8 l-6.8 13.8 l-6.8 -13.8 Z" fill="#5c5c5c"/><path d="M1145.5 503.1 l6.9 10.9 l-6.9 10.9 l-6.9 -10.9 Z" fill="#cfcfcf"/><path d="M1145.5 516.3 l5.7 10.8 l-5.7 10.8 l-5.7 -10.8 Z" fill="#c9c9c9"/><path d="M1145.5 528.1 l6.4 10.4 l-6.4 10.4 l-6.4 -10.4 Z" fill="#535353"/><path d="M1145.5 539 l6.7 12.9 l-6.7 12.9 l-6.7 -12.9 Z" fill="#a8a8a8"/><path d="M1145.5 555.2 l6.9 10.4 l-6.9 10.4 l-6.9 -10.4 Z" fill="#cecece"/><path d="M1145.5 565.1 l6.1 11.8 l-6.1 11.8 l-6.1 -11.8 Z" fill="#555555"/><path d="M1145.5 577.8 l6.1 12.2 l-6.1 12.2 l-6.1 -12.2 Z" fill="#8e8e8e"/><path d="M1145.5 589.3 l6.1 12.7 l-6.1 12.7 l-6.1 -12.7 Z" fill="#5e5e5e"/><path d="M1145.5 601.5 l5.6 13 l-5.6 13 l-5.6 -13 Z" fill="#dadada"/><path d="M1145.5 616.3 l6.2 11.4 l-6.2 11.4 l-6.2 -11.4 Z" fill="#525252"/><path d="M1145.5 628.9 l5.9 12 l-5.9 12 l-5.9 -12 Z" fill="#c6c6c6"/><path d="M1145.5 642.7 l5.9 11.3 l-5.9 11.3 l-5.9 -11.3 Z" fill="#cdcdcd"/><path d="M1145.5 656.6 l6.1 11 l-6.1 11 l-6.1 -11 Z" fill="#8d8d8d"/><path d="M1145.5 668.7 l5.6 11.9 l-5.6 11.9 l-5.6 -11.9 Z" fill="#565656"/><path d="M1145.5 684.2 l6.9 10.4 l-6.9 10.4 l-6.9 -10.4 Z" fill="#999999"/><path d="M1145.5 695.1 l6.6 11.4 l-6.6 11.4 l-6.6 -11.4 Z" fill="#b9b9b9"/><path d="M1145.5 705.6 l6.1 12.1 l-6.1 12.1 l-6.1 -12.1 Z" fill="#5b5b5b"/><path d="M1145.5 716.9 l6.2 11.9 l-6.2 11.9 l-6.2 -11.9 Z" fill="#686868"/><path d="M1145.5 728 l6.5 12 l-6.5 12 l-6.5 -12 Z" fill="#676767"/><path d="M1145.5 738.8 l6.2 12.4 l-6.2 12.4 l-6.2 -12.4 Z" fill="#a7a7a7"/><path d="M1155 436.4 l5.6 10.1 l-5.6 10.1 l-5.6 -10.1 Z" fill="#a2a2a2"/><path d="M1155 446.1 l6.7 13.7 l-6.7 13.7 l-6.7 -13.7 Z" fill="#aaaaaa"/><path d="M1155 461.3 l6.8 10.6 l-6.8 10.6 l-6.8 -10.6 Z" fill="#d3d3d3"/><path d="M1155 474.4 l7 10.9 l-7 10.9 l-7 -10.9 Z" fill="#aeaeae"/><path d="M1155 484.8 l5.9 12.7 l-5.9 12.7 l-5.9 -12.7 Z" fill="#5b5b5b"/><path d="M1155 497.3 l5.6 11.5 l-5.6 11.5 l-5.6 -11.5 Z" fill="#5b5b5b"/><path d="M1155 509.3 l5.5 13.3 l-5.5 13.3 l-5.5 -13.3 Z" fill="#bfbfbf"/><path d="M1155 522.8 l5.9 13.7 l-5.9 13.7 l-5.9 -13.7 Z" fill="#909090"/><path d="M1155 539.2 l6.1 11.1 l-6.1 11.1 l-6.1 -11.1 Z" fill="#545454"/><path d="M1155 551.4 l5.7 12.1 l-5.7 12.1 l-5.7 -12.1 Z" fill="#a7a7a7"/><path d="M1155 564.9 l5.7 12.6 l-5.7 12.6 l-5.7 -12.6 Z" fill="#8f8f8f"/><path d="M1155 575.7 l6.4 13.9 l-6.4 13.9 l-6.4 -13.9 Z" fill="#9c9c9c"/><path d="M1155 588.4 l6.3 12.9 l-6.3 12.9 l-6.3 -12.9 Z" fill="#959595"/><path d="M1155 599.6 l5.5 13.1 l-5.5 13.1 l-5.5 -13.1 Z" fill="#a4a4a4"/><path d="M1155 614.7 l6.7 10.2 l-6.7 10.2 l-6.7 -10.2 Z" fill="#a1a1a1"/><path d="M1155 627.4 l6 10.1 l-6 10.1 l-6 -10.1 Z" fill="#595959"/><path d="M1155 637.9 l6.9 11.5 l-6.9 11.5 l-6.9 -11.5 Z" fill="#a2a2a2"/><path d="M1155 648 l6.9 14 l-6.9 14 l-6.9 -14 Z" fill="#acacac"/><path d="M1155 662 l5.6 11.8 l-5.6 11.8 l-5.6 -11.8 Z" fill="#676767"/><path d="M1155 675.9 l6.9 11.2 l-6.9 11.2 l-6.9 -11.2 Z" fill="#999999"/><path d="M1155 687.7 l6 12 l-6 12 l-6 -12 Z" fill="#bdbdbd"/><path d="M1155 702.1 l5.6 10.4 l-5.6 10.4 l-5.6 -10.4 Z" fill="#5b5b5b"/><path d="M1155 713.3 l5.9 11.1 l-5.9 11.1 l-5.9 -11.1 Z" fill="#686868"/><path d="M1155 725.3 l6.7 12.5 l-6.7 12.5 l-6.7 -12.5 Z" fill="#959595"/><path d="M1155 736.4 l5.9 13.5 l-5.9 13.5 l-5.9 -13.5 Z" fill="#949494"/><path d="M1164.5 444.7 l5.7 10.2 l-5.7 10.2 l-5.7 -10.2 Z" fill="#bfbfbf"/><path d="M1164.5 454.8 l5.6 13.3 l-5.6 13.3 l-5.6 -13.3 Z" fill="#8c8c8c"/><path d="M1164.5 470.1 l6.4 10.5 l-6.4 10.5 l-6.4 -10.5 Z" fill="#bababa"/><path d="M1164.5 479.9 l5.8 13.8 l-5.8 13.8 l-5.8 -13.8 Z" fill="#a1a1a1"/><path d="M1164.5 494.8 l5.6 10.3 l-5.6 10.3 l-5.6 -10.3 Z" fill="#616161"/><path d="M1164.5 507.2 l6.6 10.3 l-6.6 10.3 l-6.6 -10.3 Z" fill="#ababab"/><path d="M1164.5 519.3 l6.6 11 l-6.6 11 l-6.6 -11 Z" fill="#bdbdbd"/><path d="M1164.5 528.7 l6.3 13.6 l-6.3 13.6 l-6.3 -13.6 Z" fill="#626262"/><path d="M1164.5 540.9 l5.9 13.8 l-5.9 13.8 l-5.9 -13.8 Z" fill="#555555"/><path d="M1164.5 554.6 l5.6 11.7 l-5.6 11.7 l-5.6 -11.7 Z" fill="#585858"/><path d="M1164.5 567.2 l5.7 12 l-5.7 12 l-5.7 -12 Z" fill="#929292"/><path d="M1164.5 581.6 l6.9 10.6 l-6.9 10.6 l-6.9 -10.6 Z" fill="#a0a0a0"/><path d="M1164.5 591.8 l6.9 12.2 l-6.9 12.2 l-6.9 -12.2 Z" fill="#9e9e9e"/><path d="M1164.5 605.8 l6.8 11.2 l-6.8 11.2 l-6.8 -11.2 Z" fill="#a7a7a7"/><path d="M1164.5 617.3 l6.8 11.1 l-6.8 11.1 l-6.8 -11.1 Z" fill="#585858"/><path d="M1164.5 628.1 l5.7 13.1 l-5.7 13.1 l-5.7 -13.1 Z" fill="#adadad"/><path d="M1164.5 640.9 l6.8 12.3 l-6.8 12.3 l-6.8 -12.3 Z" fill="#5f5f5f"/><path d="M1164.5 651.5 l6.5 12.9 l-6.5 12.9 l-6.5 -12.9 Z" fill="#c6c6c6"/><path d="M1164.5 665.9 l5.6 10.3 l-5.6 10.3 l-5.6 -10.3 Z" fill="#979797"/><path d="M1164.5 678.1 l5.6 11.2 l-5.6 11.2 l-5.6 -11.2 Z" fill="#aaaaaa"/><path d="M1164.5 688.8 l6.8 12 l-6.8 12 l-6.8 -12 Z" fill="#d4d4d4"/><path d="M1164.5 699.9 l5.5 12.3 l-5.5 12.3 l-5.5 -12.3 Z" fill="#939393"/><path d="M1164.5 710.3 l6.9 13.8 l-6.9 13.8 l-6.9 -13.8 Z" fill="#5c5c5c"/><path d="M1164.5 724.3 l5.7 12.1 l-5.7 12.1 l-5.7 -12.1 Z" fill="#636363"/><path d="M1164.5 736.6 l6.2 11.1 l-6.2 11.1 l-6.2 -11.1 Z" fill="#cbcbcb"/><path d="M1174 437.2 l5.8 12.1 l-5.8 12.1 l-5.8 -12.1 Z" fill="#c7c7c7"/><path d="M1174 451.8 l6.9 11.3 l-6.9 11.3 l-6.9 -11.3 Z" fill="#a2a2a2"/><path d="M1174 462.7 l5.6 13.8 l-5.6 13.8 l-5.6 -13.8 Z" fill="#909090"/><path d="M1174 476.9 l6.4 12 l-6.4 12 l-6.4 -12 Z" fill="#acacac"/><path d="M1174 487.7 l6.2 13 l-6.2 13 l-6.2 -13 Z" fill="#949494"/><path d="M1174 500.6 l6.5 12.9 l-6.5 12.9 l-6.5 -12.9 Z" fill="#555555"/><path d="M1174 514.5 l5.8 10.4 l-5.8 10.4 l-5.8 -10.4 Z" fill="#bdbdbd"/><path d="M1174 524.4 l5.7 12.8 l-5.7 12.8 l-5.7 -12.8 Z" fill="#aaaaaa"/><path d="M1174 538.3 l6 10.2 l-6 10.2 l-6 -10.2 Z" fill="#949494"/><path d="M1174 549.3 l6 12.4 l-6 12.4 l-6 -12.4 Z" fill="#636363"/><path d="M1174 563.5 l6.9 11.1 l-6.9 11.1 l-6.9 -11.1 Z" fill="#aaaaaa"/><path d="M1174 574.9 l6.1 11.7 l-6.1 11.7 l-6.1 -11.7 Z" fill="#bdbdbd"/><path d="M1174 587.6 l6.6 12.9 l-6.6 12.9 l-6.6 -12.9 Z" fill="#606060"/><path d="M1174 598.9 l6.8 12.6 l-6.8 12.6 l-6.8 -12.6 Z" fill="#c3c3c3"/><path d="M1174 610.9 l6 12.9 l-6 12.9 l-6 -12.9 Z" fill="#d0d0d0"/><path d="M1174 625.7 l6.7 10.6 l-6.7 10.6 l-6.7 -10.6 Z" fill="#a1a1a1"/><path d="M1174 635.4 l6.7 13.3 l-6.7 13.3 l-6.7 -13.3 Z" fill="#636363"/><path d="M1174 649.1 l5.7 10.8 l-5.7 10.8 l-5.7 -10.8 Z" fill="#9c9c9c"/><path d="M1174 661.2 l6.7 12.6 l-6.7 12.6 l-6.7 -12.6 Z" fill="#c1c1c1"/><path d="M1174 676 l5.9 10 l-5.9 10 l-5.9 -10 Z" fill="#949494"/><path d="M1174 687.2 l6.3 11.7 l-6.3 11.7 l-6.3 -11.7 Z" fill="#a6a6a6"/><path d="M1174 697.9 l6.4 13 l-6.4 13 l-6.4 -13 Z" fill="#999999"/><path d="M1174 709.9 l5.9 13.4 l-5.9 13.4 l-5.9 -13.4 Z" fill="#8e8e8e"/><path d="M1174 724.2 l6.6 10.4 l-6.6 10.4 l-6.6 -10.4 Z" fill="#505050"/><path d="M1174 734.9 l6.2 12.1 l-6.2 12.1 l-6.2 -12.1 Z" fill="#a8a8a8"/><path d="M1183.5 444.4 l6.4 13.3 l-6.4 13.3 l-6.4 -13.3 Z" fill="#d3d3d3"/><path d="M1183.5 460.5 l6.4 10.1 l-6.4 10.1 l-6.4 -10.1 Z" fill="#a9a9a9"/><path d="M1183.5 472.9 l5.6 11.4 l-5.6 11.4 l-5.6 -11.4 Z" fill="#c0c0c0"/><path d="M1183.5 485.5 l5.8 10 l-5.8 10 l-5.8 -10 Z" fill="#8f8f8f"/><path d="M1183.5 497.1 l6.1 10.7 l-6.1 10.7 l-6.1 -10.7 Z" fill="#626262"/><path d="M1183.5 510.1 l5.8 11.6 l-5.8 11.6 l-5.8 -11.6 Z" fill="#d1d1d1"/><path d="M1183.5 520.9 l6.2 13.1 l-6.2 13.1 l-6.2 -13.1 Z" fill="#8c8c8c"/><path d="M1183.5 533.6 l6.6 13.5 l-6.6 13.5 l-6.6 -13.5 Z" fill="#d0d0d0"/><path d="M1183.5 548.2 l6.5 12.6 l-6.5 12.6 l-6.5 -12.6 Z" fill="#c7c7c7"/><path d="M1183.5 563.2 l5.8 11.3 l-5.8 11.3 l-5.8 -11.3 Z" fill="#9b9b9b"/><path d="M1183.5 574.1 l5.8 12.1 l-5.8 12.1 l-5.8 -12.1 Z" fill="#a6a6a6"/><path d="M1183.5 588.3 l6.4 11.4 l-6.4 11.4 l-6.4 -11.4 Z" fill="#8f8f8f"/><path d="M1183.5 599.5 l5.7 11.7 l-5.7 11.7 l-5.7 -11.7 Z" fill="#505050"/><path d="M1183.5 609.2 l6.9 13.3 l-6.9 13.3 l-6.9 -13.3 Z" fill="#5d5d5d"/><path d="M1183.5 624.5 l5.7 10 l-5.7 10 l-5.7 -10 Z" fill="#bbbbbb"/><path d="M1183.5 632.5 l6.2 13.2 l-6.2 13.2 l-6.2 -13.2 Z" fill="#a6a6a6"/><path d="M1183.5 647.3 l6.3 10.7 l-6.3 10.7 l-6.3 -10.7 Z" fill="#cecece"/><path d="M1183.5 659.1 l5.8 11.2 l-5.8 11.2 l-5.8 -11.2 Z" fill="#a8a8a8"/><path d="M1183.5 671.1 l5.8 12.7 l-5.8 12.7 l-5.8 -12.7 Z" fill="#5d5d5d"/><path d="M1183.5 685.3 l6.1 11.3 l-6.1 11.3 l-6.1 -11.3 Z" fill="#626262"/><path d="M1183.5 699.6 l6.5 10.5 l-6.5 10.5 l-6.5 -10.5 Z" fill="#c3c3c3"/><path d="M1183.5 710.1 l6.9 12.5 l-6.9 12.5 l-6.9 -12.5 Z" fill="#606060"/><path d="M1183.5 723.2 l6.2 10.6 l-6.2 10.6 l-6.2 -10.6 Z" fill="#9c9c9c"/><path d="M1183.5 734.6 l6.5 11 l-6.5 11 l-6.5 -11 Z" fill="#8e8e8e"/><path d="M1193 441 l6.9 11.2 l-6.9 11.2 l-6.9 -11.2 Z" fill="#575757"/><path d="M1193 452.1 l5.6 11.4 l-5.6 11.4 l-5.6 -11.4 Z" fill="#676767"/><path d="M1193 461.6 l5.6 13.4 l-5.6 13.4 l-5.6 -13.4 Z" fill="#9c9c9c"/><path d="M1193 476.8 l6.8 10.2 l-6.8 10.2 l-6.8 -10.2 Z" fill="#9b9b9b"/><path d="M1193 486.7 l6.7 12 l-6.7 12 l-6.7 -12 Z" fill="#565656"/><path d="M1193 499 l6.4 11.8 l-6.4 11.8 l-6.4 -11.8 Z" fill="#a9a9a9"/><path d="M1193 513.2 l6.1 10.5 l-6.1 10.5 l-6.1 -10.5 Z" fill="#9a9a9a"/><path d="M1193 523.6 l6 12.4 l-6 12.4 l-6 -12.4 Z" fill="#c3c3c3"/><path d="M1193 538.7 l6.6 10.2 l-6.6 10.2 l-6.6 -10.2 Z" fill="#5b5b5b"/><path d="M1193 549.8 l5.6 10.3 l-5.6 10.3 l-5.6 -10.3 Z" fill="#d8d8d8"/><path d="M1193 561.2 l5.6 11.8 l-5.6 11.8 l-5.6 -11.8 Z" fill="#606060"/><path d="M1193 571.1 l6.3 13.4 l-6.3 13.4 l-6.3 -13.4 Z" fill="#616161"/><path d="M1193 586.2 l5.8 11.9 l-5.8 11.9 l-5.8 -11.9 Z" fill="#a9a9a9"/><path d="M1193 598.5 l6.8 11.5 l-6.8 11.5 l-6.8 -11.5 Z" fill="#8f8f8f"/><path d="M1193 609.9 l6.1 13.4 l-6.1 13.4 l-6.1 -13.4 Z" fill="#d9d9d9"/><path d="M1193 625.5 l6.6 11.8 l-6.6 11.8 l-6.6 -11.8 Z" fill="#626262"/><path d="M1193 637.6 l6.9 11.6 l-6.9 11.6 l-6.9 -11.6 Z" fill="#5a5a5a"/><path d="M1193 649.1 l6.4 11.8 l-6.4 11.8 l-6.4 -11.8 Z" fill="#9b9b9b"/><path d="M1193 661.8 l6.5 11 l-6.5 11 l-6.5 -11 Z" fill="#646464"/><path d="M1193 672.2 l6.9 13.1 l-6.9 13.1 l-6.9 -13.1 Z" fill="#9d9d9d"/><path d="M1193 683.5 l5.7 13.7 l-5.7 13.7 l-5.7 -13.7 Z" fill="#5f5f5f"/><path d="M1193 698.2 l6.3 10.2 l-6.3 10.2 l-6.3 -10.2 Z" fill="#959595"/><path d="M1193 708.2 l5.8 11.8 l-5.8 11.8 l-5.8 -11.8 Z" fill="#d4d4d4"/><path d="M1193 719.9 l7 11.2 l-7 11.2 l-7 -11.2 Z" fill="#545454"/><path d="M1193 729.9 l7 13 l-7 13 l-7 -13 Z" fill="#525252"/><path d="M1202.5 449.9 l5.9 10.7 l-5.9 10.7 l-5.9 -10.7 Z" fill="#d4d4d4"/><path d="M1202.5 460.4 l6.6 12 l-6.6 12 l-6.6 -12 Z" fill="#545454"/><path d="M1202.5 470.5 l6.8 12.9 l-6.8 12.9 l-6.8 -12.9 Z" fill="#656565"/><path d="M1202.5 484.3 l6.1 12.3 l-6.1 12.3 l-6.1 -12.3 Z" fill="#cccccc"/><path d="M1202.5 498 l6.2 10.5 l-6.2 10.5 l-6.2 -10.5 Z" fill="#565656"/><path d="M1202.5 507.8 l6.9 11.9 l-6.9 11.9 l-6.9 -11.9 Z" fill="#595959"/><path d="M1202.5 521.6 l6 11.6 l-6 11.6 l-6 -11.6 Z" fill="#a0a0a0"/><path d="M1202.5 534 l6.7 11.2 l-6.7 11.2 l-6.7 -11.2 Z" fill="#a9a9a9"/><path d="M1202.5 546.6 l5.8 10 l-5.8 10 l-5.8 -10 Z" fill="#5e5e5e"/><path d="M1202.5 556.2 l6.5 12.3 l-6.5 12.3 l-6.5 -12.3 Z" fill="#555555"/><path d="M1202.5 569.9 l6.9 10.5 l-6.9 10.5 l-6.9 -10.5 Z" fill="#939393"/><path d="M1202.5 579.7 l6.2 13.5 l-6.2 13.5 l-6.2 -13.5 Z" fill="#a5a5a5"/><path d="M1202.5 594.2 l5.8 11.9 l-5.8 11.9 l-5.8 -11.9 Z" fill="#8e8e8e"/><path d="M1202.5 606.8 l6 11.9 l-6 11.9 l-6 -11.9 Z" fill="#626262"/><path d="M1202.5 618.8 l6.3 12.4 l-6.3 12.4 l-6.3 -12.4 Z" fill="#c3c3c3"/><path d="M1202.5 631.8 l6.2 12.4 l-6.2 12.4 l-6.2 -12.4 Z" fill="#565656"/><path d="M1202.5 646.3 l6.3 10.8 l-6.3 10.8 l-6.3 -10.8 Z" fill="#5b5b5b"/><path d="M1202.5 657.3 l6.2 11.2 l-6.2 11.2 l-6.2 -11.2 Z" fill="#b9b9b9"/><path d="M1202.5 665.9 l6.1 13.6 l-6.1 13.6 l-6.1 -13.6 Z" fill="#545454"/><path d="M1202.5 680.7 l6.4 10.1 l-6.4 10.1 l-6.4 -10.1 Z" fill="#a4a4a4"/><path d="M1202.5 691.4 l6.2 11 l-6.2 11 l-6.2 -11 Z" fill="#666666"/><path d="M1202.5 702 l6.5 12.9 l-6.5 12.9 l-6.5 -12.9 Z" fill="#919191"/><path d="M1202.5 714.9 l6.9 12.5 l-6.9 12.5 l-6.9 -12.5 Z" fill="#a6a6a6"/><path d="M1202.5 725.7 l6 12.7 l-6 12.7 l-6 -12.7 Z" fill="#a3a3a3"/><path d="M1202.5 736.9 l6.5 13.7 l-6.5 13.7 l-6.5 -13.7 Z" fill="#a1a1a1"/><path d="M1212 442.5 l5.8 12.5 l-5.8 12.5 l-5.8 -12.5 Z" fill="#a4a4a4"/><path d="M1212 455.9 l5.8 12 l-5.8 12 l-5.8 -12 Z" fill="#626262"/><path d="M1212 466.7 l6.2 13.8 l-6.2 13.8 l-6.2 -13.8 Z" fill="#a6a6a6"/><path d="M1212 479.9 l6 12.9 l-6 12.9 l-6 -12.9 Z" fill="#aeaeae"/><path d="M1212 494.5 l6.5 12.2 l-6.5 12.2 l-6.5 -12.2 Z" fill="#636363"/><path d="M1212 507.5 l6.2 12.5 l-6.2 12.5 l-6.2 -12.5 Z" fill="#bebebe"/><path d="M1212 522.8 l6.7 10.3 l-6.7 10.3 l-6.7 -10.3 Z" fill="#d5d5d5"/><path d="M1212 534 l6.6 11.3 l-6.6 11.3 l-6.6 -11.3 Z" fill="#dadada"/><path d="M1212 545.2 l6.5 13.5 l-6.5 13.5 l-6.5 -13.5 Z" fill="#a3a3a3"/><path d="M1212 559.2 l6.2 12.6 l-6.2 12.6 l-6.2 -12.6 Z" fill="#cacaca"/><path d="M1212 572.5 l6 12 l-6 12 l-6 -12 Z" fill="#676767"/><path d="M1212 584.4 l5.9 11.2 l-5.9 11.2 l-5.9 -11.2 Z" fill="#676767"/><path d="M1212 595.5 l6.4 13.6 l-6.4 13.6 l-6.4 -13.6 Z" fill="#606060"/><path d="M1212 611.5 l6 10 l-6 10 l-6 -10 Z" fill="#565656"/><path d="M1212 619.1 l6.7 13.8 l-6.7 13.8 l-6.7 -13.8 Z" fill="#575757"/><path d="M1212 633 l6.4 11.9 l-6.4 11.9 l-6.4 -11.9 Z" fill="#575757"/><path d="M1212 643.1 l5.7 13.1 l-5.7 13.1 l-5.7 -13.1 Z" fill="#959595"/><path d="M1212 654.1 l6.3 13.5 l-6.3 13.5 l-6.3 -13.5 Z" fill="#a6a6a6"/><path d="M1212 667.8 l6.8 11.7 l-6.8 11.7 l-6.8 -11.7 Z" fill="#bababa"/><path d="M1212 677.6 l6.6 12.9 l-6.6 12.9 l-6.6 -12.9 Z" fill="#686868"/><path d="M1212 690.4 l6.2 13.6 l-6.2 13.6 l-6.2 -13.6 Z" fill="#575757"/><path d="M1212 706.5 l6.3 11.2 l-6.3 11.2 l-6.3 -11.2 Z" fill="#686868"/><path d="M1212 717.7 l6.2 11.2 l-6.2 11.2 l-6.2 -11.2 Z" fill="#9e9e9e"/><path d="M1212 731.8 l6.7 11 l-6.7 11 l-6.7 -11 Z" fill="#969696"/><path d="M1221.5 450.9 l7 12.5 l-7 12.5 l-7 -12.5 Z" fill="#555555"/><path d="M1221.5 464.5 l6.3 11.5 l-6.3 11.5 l-6.3 -11.5 Z" fill="#a3a3a3"/><path d="M1221.5 477.4 l6.1 10 l-6.1 10 l-6.1 -10 Z" fill="#535353"/><path d="M1221.5 488.5 l6 12 l-6 12 l-6 -12 Z" fill="#555555"/><path d="M1221.5 501.7 l5.6 10.3 l-5.6 10.3 l-5.6 -10.3 Z" fill="#c9c9c9"/><path d="M1221.5 515.6 l6.6 10.2 l-6.6 10.2 l-6.6 -10.2 Z" fill="#969696"/><path d="M1221.5 527.7 l5.6 11.7 l-5.6 11.7 l-5.6 -11.7 Z" fill="#d0d0d0"/><path d="M1221.5 542.7 l5.9 10.3 l-5.9 10.3 l-5.9 -10.3 Z" fill="#939393"/><path d="M1221.5 551.9 l6.8 13.6 l-6.8 13.6 l-6.8 -13.6 Z" fill="#5b5b5b"/><path d="M1221.5 564.5 l6.9 13.5 l-6.9 13.5 l-6.9 -13.5 Z" fill="#bdbdbd"/><path d="M1221.5 579.1 l7 11.3 l-7 11.3 l-7 -11.3 Z" fill="#c3c3c3"/><path d="M1221.5 593.9 l6.6 10.3 l-6.6 10.3 l-6.6 -10.3 Z" fill="#d9d9d9"/><path d="M1221.5 605.9 l6.5 10.2 l-6.5 10.2 l-6.5 -10.2 Z" fill="#ababab"/><path d="M1221.5 616 l5.8 12.1 l-5.8 12.1 l-5.8 -12.1 Z" fill="#545454"/><path d="M1221.5 627.8 l6.9 12.4 l-6.9 12.4 l-6.9 -12.4 Z" fill="#5a5a5a"/><path d="M1221.5 643.1 l6.8 10.4 l-6.8 10.4 l-6.8 -10.4 Z" fill="#bababa"/><path d="M1221.5 653.1 l6.4 11.9 l-6.4 11.9 l-6.4 -11.9 Z" fill="#a6a6a6"/><path d="M1221.5 667.8 l5.8 10.5 l-5.8 10.5 l-5.8 -10.5 Z" fill="#929292"/><path d="M1221.5 677.7 l6 11.6 l-6 11.6 l-6 -11.6 Z" fill="#dadada"/><path d="M1221.5 687.6 l5.8 13.5 l-5.8 13.5 l-5.8 -13.5 Z" fill="#cacaca"/><path d="M1221.5 702.4 l5.8 12.6 l-5.8 12.6 l-5.8 -12.6 Z" fill="#5b5b5b"/><path d="M1221.5 715 l6.4 12 l-6.4 12 l-6.4 -12 Z" fill="#575757"/><path d="M1221.5 727.7 l6.9 11.8 l-6.9 11.8 l-6.9 -11.8 Z" fill="#9c9c9c"/><path d="M1231 444.7 l6.4 13.2 l-6.4 13.2 l-6.4 -13.2 Z" fill="#cecece"/><path d="M1231 460.9 l5.7 10.1 l-5.7 10.1 l-5.7 -10.1 Z" fill="#5a5a5a"/><path d="M1231 474 l5.5 10.1 l-5.5 10.1 l-5.5 -10.1 Z" fill="#565656"/><path d="M1231 483.4 l6.5 13.6 l-6.5 13.6 l-6.5 -13.6 Z" fill="#9b9b9b"/><path d="M1231 497.8 l5.8 12.3 l-5.8 12.3 l-5.8 -12.3 Z" fill="#686868"/><path d="M1231 510.3 l6.4 12.8 l-6.4 12.8 l-6.4 -12.8 Z" fill="#666666"/><path d="M1231 521.6 l6.4 12.9 l-6.4 12.9 l-6.4 -12.9 Z" fill="#c3c3c3"/><path d="M1231 533.8 l7 12.6 l-7 12.6 l-7 -12.6 Z" fill="#585858"/><path d="M1231 548.6 l5.9 10.3 l-5.9 10.3 l-5.9 -10.3 Z" fill="#a2a2a2"/><path d="M1231 557.7 l7 12.5 l-7 12.5 l-7 -12.5 Z" fill="#a0a0a0"/><path d="M1231 571.9 l6.1 11.9 l-6.1 11.9 l-6.1 -11.9 Z" fill="#cacaca"/><path d="M1231 582.1 l5.7 13.8 l-5.7 13.8 l-5.7 -13.8 Z" fill="#cdcdcd"/><path d="M1231 596.2 l6.4 12.3 l-6.4 12.3 l-6.4 -12.3 Z" fill="#9f9f9f"/><path d="M1231 609.3 l6 10.5 l-6 10.5 l-6 -10.5 Z" fill="#626262"/><path d="M1231 622.7 l6.1 10.5 l-6.1 10.5 l-6.1 -10.5 Z" fill="#a6a6a6"/><path d="M1231 635.5 l6.5 11.1 l-6.5 11.1 l-6.5 -11.1 Z" fill="#606060"/><path d="M1231 643.6 l6.4 13.9 l-6.4 13.9 l-6.4 -13.9 Z" fill="#a7a7a7"/><path d="M1231 658 l6.4 11.2 l-6.4 11.2 l-6.4 -11.2 Z" fill="#9b9b9b"/><path d="M1231 668.5 l6.9 12.4 l-6.9 12.4 l-6.9 -12.4 Z" fill="#a1a1a1"/><path d="M1231 682.4 l6.1 11.1 l-6.1 11.1 l-6.1 -11.1 Z" fill="#a1a1a1"/><path d="M1231 695 l5.8 11.4 l-5.8 11.4 l-5.8 -11.4 Z" fill="#8d8d8d"/><path d="M1231 708.2 l6.7 11.3 l-6.7 11.3 l-6.7 -11.3 Z" fill="#9d9d9d"/><path d="M1231 718 l6.1 13.6 l-6.1 13.6 l-6.1 -13.6 Z" fill="#d0d0d0"/><path d="M1231 731.9 l6.8 10.8 l-6.8 10.8 l-6.8 -10.8 Z" fill="#aaaaaa"/></g><path d="M1100 560 C1108.3 546.7 1143.3 583.3 1160 600 C1176.7 616.7 1192.5 635 1200 660 C1207.5 685 1213.3 735 1205 750 C1196.7 765 1165.8 761.7 1150 750 C1134.2 738.3 1118.3 711.7 1110 680 C1101.7 648.3 1091.7 573.3 1100 560Z" fill="#505050" filter="url(#fb8)" opacity="0.55"/><path d="M1095 330 C1100.8 323.3 1115 340 1120 360 C1125 380 1126.7 416.7 1125 450 C1123.3 483.3 1115 535 1110 560 C1105 585 1100 610 1095 600 C1090 590 1081.7 533.3 1080 500 C1078.3 466.7 1082.5 428.3 1085 400 C1087.5 371.7 1089.2 336.7 1095 330Z" fill="#5a5a5a" filter="url(#fb6)" opacity="0.6"/><g filter="url(#fb1)"><path d="M1042.3 724.6 l2.2 6.6 l-2.2 6.6 l-2.2 -6.6 Z" fill="#c8c8c8" opacity="0.75"/><path d="M1095 559.6 l1.9 5.7 l-1.9 5.7 l-1.9 -5.7 Z" fill="#a8a8a8" opacity="0.75"/><path d="M1021.5 469.3 l2.6 7.9 l-2.6 7.9 l-2.6 -7.9 Z" fill="#b8b8b8" opacity="0.75"/><path d="M1062.4 592.3 l1.9 5.7 l-1.9 5.7 l-1.9 -5.7 Z" fill="#a8a8a8" opacity="0.75"/><path d="M1028.4 693.3 l2.3 6.8 l-2.3 6.8 l-2.3 -6.8 Z" fill="#c8c8c8" opacity="0.75"/><path d="M1018.4 739.6 l2 6.1 l-2 6.1 l-2 -6.1 Z" fill="#c8c8c8" opacity="0.75"/><path d="M1093 644.4 l2.1 6.4 l-2.1 6.4 l-2.1 -6.4 Z" fill="#c8c8c8" opacity="0.75"/><path d="M1025 684.4 l2.3 6.8 l-2.3 6.8 l-2.3 -6.8 Z" fill="#c8c8c8" opacity="0.75"/><path d="M1011.5 470 l2.5 7.6 l-2.5 7.6 l-2.5 -7.6 Z" fill="#b8b8b8" opacity="0.75"/><path d="M994.4 628.5 l1.9 5.6 l-1.9 5.6 l-1.9 -5.6 Z" fill="#b8b8b8" opacity="0.75"/><path d="M1063.1 677.2 l2.4 7.2 l-2.4 7.2 l-2.4 -7.2 Z" fill="#a8a8a8" opacity="0.75"/><path d="M975.7 606.3 l2.6 7.8 l-2.6 7.8 l-2.6 -7.8 Z" fill="#a8a8a8" opacity="0.75"/><path d="M990.2 684 l1.9 5.6 l-1.9 5.6 l-1.9 -5.6 Z" fill="#c8c8c8" opacity="0.75"/><path d="M974.1 436.8 l2.2 6.6 l-2.2 6.6 l-2.2 -6.6 Z" fill="#b8b8b8" opacity="0.75"/><path d="M1084.4 579.2 l2.9 8.6 l-2.9 8.6 l-2.9 -8.6 Z" fill="#b8b8b8" opacity="0.75"/><path d="M1042.9 504.5 l2.4 7.1 l-2.4 7.1 l-2.4 -7.1 Z" fill="#b8b8b8" opacity="0.75"/><path d="M1066.7 548.5 l1.9 5.8 l-1.9 5.8 l-1.9 -5.8 Z" fill="#b8b8b8" opacity="0.75"/><path d="M1068 578.1 l2.1 6.4 l-2.1 6.4 l-2.1 -6.4 Z" fill="#a8a8a8" opacity="0.75"/><path d="M1105.5 608.3 l2.5 7.5 l-2.5 7.5 l-2.5 -7.5 Z" fill="#b8b8b8" opacity="0.75"/><path d="M1108 738.2 l2 6 l-2 6 l-2 -6 Z" fill="#b8b8b8" opacity="0.75"/><path d="M983.1 616.3 l2.6 7.7 l-2.6 7.7 l-2.6 -7.7 Z" fill="#b8b8b8" opacity="0.75"/><path d="M1064.2 516.1 l2.5 7.5 l-2.5 7.5 l-2.5 -7.5 Z" fill="#b8b8b8" opacity="0.75"/><path d="M967.2 436.1 l2.7 8.1 l-2.7 8.1 l-2.7 -8.1 Z" fill="#b8b8b8" opacity="0.75"/><path d="M985.8 718.6 l2.1 6.3 l-2.1 6.3 l-2.1 -6.3 Z" fill="#a8a8a8" opacity="0.75"/><path d="M1042.8 647.5 l2.1 6.3 l-2.1 6.3 l-2.1 -6.3 Z" fill="#b8b8b8" opacity="0.75"/><path d="M1017.5 693.3 l3 8.9 l-3 8.9 l-3 -8.9 Z" fill="#c8c8c8" opacity="0.75"/><path d="M1018.9 670.3 l2.7 8 l-2.7 8 l-2.7 -8 Z" fill="#a8a8a8" opacity="0.75"/><path d="M1001.2 535.5 l2 6 l-2 6 l-2 -6 Z" fill="#c8c8c8" opacity="0.75"/><path d="M1102.4 603 l3 9 l-3 9 l-3 -9 Z" fill="#b8b8b8" opacity="0.75"/><path d="M1106.1 716.1 l3 8.9 l-3 8.9 l-3 -8.9 Z" fill="#b8b8b8" opacity="0.75"/><path d="M1040.8 510.4 l2.7 8.2 l-2.7 8.2 l-2.7 -8.2 Z" fill="#a8a8a8" opacity="0.75"/><path d="M973.1 568.4 l2.8 8.5 l-2.8 8.5 l-2.8 -8.5 Z" fill="#b8b8b8" opacity="0.75"/><path d="M1060.5 702.9 l2.7 8.2 l-2.7 8.2 l-2.7 -8.2 Z" fill="#b8b8b8" opacity="0.75"/><path d="M1032.3 600.4 l2.1 6.3 l-2.1 6.3 l-2.1 -6.3 Z" fill="#c8c8c8" opacity="0.75"/><path d="M1018.3 708.4 l2.6 7.9 l-2.6 7.9 l-2.6 -7.9 Z" fill="#a8a8a8" opacity="0.75"/><path d="M1102 444.3 l2.2 6.6 l-2.2 6.6 l-2.2 -6.6 Z" fill="#b8b8b8" opacity="0.75"/><path d="M1018.7 613.5 l1.8 5.4 l-1.8 5.4 l-1.8 -5.4 Z" fill="#a8a8a8" opacity="0.75"/><path d="M1071.4 611.8 l2.2 6.6 l-2.2 6.6 l-2.2 -6.6 Z" fill="#c8c8c8" opacity="0.75"/><path d="M1064.5 619.9 l3 9 l-3 9 l-3 -9 Z" fill="#a8a8a8" opacity="0.75"/><path d="M1067.4 552.3 l2.7 8.2 l-2.7 8.2 l-2.7 -8.2 Z" fill="#b8b8b8" opacity="0.75"/></g></g>
<path d="M865.2 31.2 L1392.6 344.2 L1227.2 410.8 L1227.2 410.8 L1227.2 397.8 L1233.1 379 L1217.8 374.3 L1199 368.4 L1184.8 368.4 L1170.7 355.4 L1135.3 343.6 L1111.8 335.4 L1107.1 329.5 L1109.4 324.8 L1125.9 323.6 L1128.3 317.7 L1118.9 305.9 L1114.1 294.1 L1107.1 280 L1100.1 258.2 L1085.3 248.3 L1087.7 238.5 L1082.8 228.6 L1075.4 218.7 L1067.9 211.2 L1063 203.8 L1053.1 198.9 L1054.3 184 L1038.2 176.6 L1019.7 164.2 L1020.9 154.3 L1016 149.4 L988.8 135.8 L949.2 117.2 L926.9 109.8 L894.7 95 L893.5 90 L891.8 81.6 L894.3 71.7 L889.4 61.8 L849.8 47 L842.4 43.5Z" fill="#000"/>
<defs><clipPath id="blobclip"><path d="M836.2 84.2 L840.4 84.2 L848.9 92.7 L853.2 91.7 L863.7 94.8 L874.3 100.1 L886 97 L887.3 97.4 L889.8 112.3 L886.1 137 L894.7 139.5 L919.5 151.9 L931.9 154.8 L949.2 161.8 L969 169.2 L986.3 181.5 L1001.1 186.5 L1016 190.2 L1012.3 203.8 L1013.5 213.7 L1028.4 216.2 L1048.1 218.7 L1043.2 233.5 L1050.6 243.4 L1065.5 250.8 L1067.9 263.2 L1076 270.6 L1074.3 281.2 L1083.1 283 L1076 306 L1076 323.6 L1070.7 336 L1084.9 334.3 L1099 337.8 L1091.9 359 L1081.3 376.7 L1076 397.9 L1084.9 412 L1102.5 436.8 L1127.3 452.7 L1146.7 465.1 L1141.4 475.7 L1148.5 486.3 L1143.2 507.5 L1141.4 542.9 L1134.4 539.3 L1120.2 532.3 L1095.5 514.6 L1063.6 507.5 L1038.9 479.2 L1017.7 450.9 L1000 436.8 L989.7 432 L953.4 421.6 L911.9 406 L883.6 396.2 L864.1 390.4 L846.5 382.6 L834.8 379.6 L821.1 381.6 L807.5 384.5 L789.9 386.5 L766.5 385.5 L741.1 380.6 L721.5 370.8 L704 365 L682.5 365 L655.1 355.2 L637.6 347.4 L629.8 335.7 L625.9 322 L627.8 308.3 L633.7 290.8 L643.4 275.1 L659 257.6 L673 247.4 L690 232.6 L709 219.9 L726 207.2 L738.7 194.5 L757.8 177.5 L779 158.4 L800.2 137.2 L817.1 122.4 L827.7 111.8 L832 99.1Z"/></clipPath></defs>
<g clip-path="url(#blobclip)"><rect x="620" y="80" width="540" height="470" fill="#f40000"/><path d="M600 318 C606.7 318.7 628.3 320.7 640 322 C651.7 323.3 658.7 323.7 670 326 C681.3 328.3 693.5 335 708 336 C722.5 337 742.3 334 757 332 C771.7 330 783 326.7 796 324 C809 321.3 824.7 317.7 835 316 C845.3 314.3 850.5 311.7 858 314 C865.5 316.3 868 323.2 880 330 C892 336.8 913.3 347.5 930 355 C946.7 362.5 963.3 368.3 980 375 C996.7 381.7 1015 387.5 1030 395 C1045 402.5 1059.2 411.7 1070 420 C1080.8 428.3 1086.7 435.8 1095 445 C1103.3 454.2 1109.2 466.7 1120 475 C1130.8 483.3 1153.3 491.7 1160 495 L1160 820 L600 820 Z" fill="#a00000" filter="url(#fb4)"/><path d="M600 332 C608.3 333.3 633.3 337.3 650 340 C666.7 342.7 681.7 346.7 700 348 C718.3 349.3 738.3 348.8 760 348 C781.7 347.2 813.3 343.5 830 343 C846.7 342.5 848.3 340.8 860 345 C871.7 349.2 885 360.5 900 368 C915 375.5 933.3 382.7 950 390 C966.7 397.3 985 404 1000 412 C1015 420 1027.5 428 1040 438 C1052.5 448 1064.2 461.3 1075 472 C1085.8 482.7 1095.8 493.7 1105 502 C1114.2 510.3 1120.8 517 1130 522 C1139.2 527 1155 530.3 1160 532 L1160 820 L600 820 Z" fill="#600000" filter="url(#fb4)"/><path d="M880 140 C891.7 136.7 928.3 151.7 950 160 C971.7 168.3 999.7 180.8 1010 190 C1020.3 199.2 1015.3 209.2 1012 215 C1008.7 220.8 1003.7 226.7 990 225 C976.3 223.3 948.3 212.5 930 205 C911.7 197.5 888.3 190.8 880 180 C871.7 169.2 868.3 143.3 880 140Z" fill="#c00000" filter="url(#fb4)" opacity="0.8"/><path d="M845 250 C850.3 248.3 865.5 268.3 870 280 C874.5 291.7 874.5 310 872 320 C869.5 330 861.2 340 855 340 C848.8 340 837.8 328.3 835 320 C832.2 311.7 836.3 301.7 838 290 C839.7 278.3 839.7 251.7 845 250Z" fill="#900000" filter="url(#fb6)" opacity="0.6"/><path d="M990 310 C995 308.3 1010 321.7 1020 330 C1030 338.3 1042.5 348.3 1050 360 C1057.5 371.7 1066.7 392.5 1065 400 C1063.3 407.5 1049.2 410 1040 405 C1030.8 400 1018.3 380.8 1010 370 C1001.7 359.2 993.3 350 990 340 C986.7 330 985 311.7 990 310Z" fill="#a00000" filter="url(#fb6)" opacity="0.45"/><path d="M1085 420 C1086.7 416.7 1100.8 432.5 1110 440 C1119.2 447.5 1134.2 455 1140 465 C1145.8 475 1147.5 495.8 1145 500 C1142.5 504.2 1132.5 496.7 1125 490 C1117.5 483.3 1106.7 471.7 1100 460 C1093.3 448.3 1083.3 423.3 1085 420Z" fill="#ff1a1a" filter="url(#fb3)" opacity="0.8"/><path d="M1020 225 C1025.8 223.3 1050 239.2 1060 250 C1070 260.8 1077.5 276.7 1080 290 C1082.5 303.3 1080 328.3 1075 330 C1070 331.7 1058.3 311.7 1050 300 C1041.7 288.3 1030 272.5 1025 260 C1020 247.5 1014.2 226.7 1020 225Z" fill="#ff1010" filter="url(#fb4)" opacity="0.6"/><ellipse cx="741" cy="287" rx="18" ry="8" fill="#ffffff" opacity="1.0" filter="url(#fb2)"/><ellipse cx="728" cy="292" rx="9" ry="6" fill="#ffffff" opacity="0.9" filter="url(#fb2)"/><ellipse cx="755" cy="282" rx="8" ry="5" fill="#ffffff" opacity="0.9" filter="url(#fb2)"/><ellipse cx="716" cy="260" rx="6" ry="6" fill="#ffffff" opacity="0.8" filter="url(#fb2)"/><ellipse cx="667" cy="295" rx="4" ry="6" fill="#ffffff" opacity="0.8" filter="url(#fb2)"/><ellipse cx="649" cy="287" rx="3" ry="4" fill="#ffffff" opacity="0.6" filter="url(#fb2)"/><ellipse cx="700" cy="275" rx="5" ry="4" fill="#ffffff" opacity="0.5" filter="url(#fb2)"/><ellipse cx="680" cy="268" rx="4" ry="3" fill="#ffffff" opacity="0.5" filter="url(#fb2)"/><ellipse cx="829" cy="248" rx="4" ry="8" fill="#ffffff" opacity="0.8" filter="url(#fb2)"/><ellipse cx="835" cy="263" rx="4" ry="6" fill="#ffffff" opacity="0.8" filter="url(#fb2)"/><ellipse cx="806" cy="270" rx="4" ry="5" fill="#ffffff" opacity="0.6" filter="url(#fb2)"/><ellipse cx="905" cy="360" rx="7" ry="6" fill="#ffffff" opacity="0.75" filter="url(#fb2)"/><ellipse cx="918" cy="345" rx="5" ry="5" fill="#ffffff" opacity="0.6" filter="url(#fb2)"/><ellipse cx="930" cy="330" rx="6" ry="5" fill="#ffffff" opacity="0.5" filter="url(#fb2)"/><ellipse cx="1142" cy="492" rx="5" ry="9" fill="#ffffff" opacity="0.9" filter="url(#fb2)"/><ellipse cx="880" cy="290" rx="4" ry="4" fill="#ffffff" opacity="0.4" filter="url(#fb2)"/><ellipse cx="690" cy="318" rx="3" ry="3" fill="#ffffff" opacity="0.4" filter="url(#fb2)"/><ellipse cx="760" cy="258" rx="3" ry="3" fill="#ffffff" opacity="0.5" filter="url(#fb2)"/><ellipse cx="785" cy="238" rx="4" ry="3" fill="#ffffff" opacity="0.4" filter="url(#fb2)"/><ellipse cx="745" cy="160" rx="3" ry="3" fill="#ffffff" opacity="0.3" filter="url(#fb2)"/><ellipse cx="1016" cy="394" rx="4" ry="3" fill="#ffffff" opacity="0.4" filter="url(#fb2)"/><ellipse cx="975" cy="300" rx="4" ry="4" fill="#ffffff" opacity="0.4" filter="url(#fb2)"/><ellipse cx="1034" cy="285" rx="3" ry="3" fill="#ffffff" opacity="0.4" filter="url(#fb2)"/><ellipse cx="704.2" cy="322.4" rx="4.9" ry="2.6" fill="#a00000" opacity="0.5" filter="url(#fb2)"/><ellipse cx="993.5" cy="278.1" rx="2" ry="1.5" fill="#ffd0d0" opacity="0.4" filter="url(#fb1)"/><ellipse cx="1023.8" cy="304" rx="2.2" ry="2.2" fill="#ffd0d0" opacity="0.3" filter="url(#fb1)"/><ellipse cx="833.9" cy="288" rx="2.5" ry="1.8" fill="#ffd0d0" opacity="0.3" filter="url(#fb1)"/><ellipse cx="1065.9" cy="373.5" rx="6.1" ry="3.7" fill="#a00000" opacity="0.5" filter="url(#fb2)"/><ellipse cx="685.1" cy="269.1" rx="3.8" ry="4.8" fill="#a00000" opacity="0.6" filter="url(#fb2)"/><ellipse cx="814.3" cy="241.3" rx="2.3" ry="3" fill="#ffd0d0" opacity="0.4" filter="url(#fb1)"/><ellipse cx="853.2" cy="272.9" rx="6" ry="2.7" fill="#a00000" opacity="0.5" filter="url(#fb2)"/><ellipse cx="880.4" cy="305.7" rx="1.8" ry="2" fill="#ffd0d0" opacity="0.6" filter="url(#fb1)"/><ellipse cx="786" cy="299.3" rx="1.7" ry="1.6" fill="#ffd0d0" opacity="0.5" filter="url(#fb1)"/><ellipse cx="937.5" cy="319" rx="6.8" ry="3.2" fill="#a00000" opacity="0.6" filter="url(#fb2)"/><ellipse cx="799" cy="211.8" rx="3.6" ry="2.2" fill="#a00000" opacity="0.5" filter="url(#fb2)"/><ellipse cx="978.3" cy="270.8" rx="3.2" ry="2.8" fill="#a00000" opacity="0.4" filter="url(#fb2)"/><ellipse cx="818.8" cy="192.7" rx="2.2" ry="2.8" fill="#ffd0d0" opacity="0.6" filter="url(#fb1)"/><ellipse cx="965.6" cy="269.7" rx="3.4" ry="2.3" fill="#ffd0d0" opacity="0.5" filter="url(#fb1)"/><ellipse cx="1007.2" cy="348.8" rx="5.4" ry="3.3" fill="#a00000" opacity="0.5" filter="url(#fb2)"/><ellipse cx="870.5" cy="219" rx="3" ry="4.1" fill="#a00000" opacity="0.6" filter="url(#fb2)"/><ellipse cx="893" cy="214.3" rx="3.4" ry="2.9" fill="#ffd0d0" opacity="0.3" filter="url(#fb1)"/><ellipse cx="872.4" cy="231.1" rx="1.9" ry="1.7" fill="#ffd0d0" opacity="0.3" filter="url(#fb1)"/><ellipse cx="978.4" cy="347.7" rx="2.4" ry="1.6" fill="#ffd0d0" opacity="0.5" filter="url(#fb1)"/><ellipse cx="708.9" cy="327.9" rx="2.9" ry="2" fill="#ffd0d0" opacity="0.3" filter="url(#fb1)"/><ellipse cx="805" cy="227.4" rx="4.2" ry="3.5" fill="#a00000" opacity="0.5" filter="url(#fb2)"/><ellipse cx="900.5" cy="277.1" rx="6.9" ry="2.9" fill="#a00000" opacity="0.5" filter="url(#fb2)"/><ellipse cx="866.6" cy="290.2" rx="3.1" ry="3" fill="#ffd0d0" opacity="0.4" filter="url(#fb1)"/><ellipse cx="972" cy="262" rx="3.1" ry="3.9" fill="#a00000" opacity="0.4" filter="url(#fb2)"/><ellipse cx="862.8" cy="247.4" rx="2" ry="1.6" fill="#ffd0d0" opacity="0.4" filter="url(#fb1)"/><ellipse cx="741.2" cy="326" rx="5.9" ry="3.4" fill="#a00000" opacity="0.4" filter="url(#fb2)"/><ellipse cx="803.4" cy="271.7" rx="6.9" ry="2.3" fill="#a00000" opacity="0.4" filter="url(#fb2)"/><ellipse cx="851.3" cy="329.3" rx="6.1" ry="3.9" fill="#a00000" opacity="0.5" filter="url(#fb2)"/><ellipse cx="944.6" cy="320.7" rx="3.3" ry="2.1" fill="#ffd0d0" opacity="0.5" filter="url(#fb1)"/><ellipse cx="770.7" cy="227.9" rx="1.8" ry="2.3" fill="#ffd0d0" opacity="0.3" filter="url(#fb1)"/><ellipse cx="964.1" cy="265.6" rx="3.4" ry="2.6" fill="#ffd0d0" opacity="0.3" filter="url(#fb1)"/><ellipse cx="780.9" cy="310.4" rx="4" ry="4.9" fill="#a00000" opacity="0.4" filter="url(#fb2)"/><ellipse cx="699" cy="320.3" rx="2.7" ry="1.9" fill="#ffd0d0" opacity="0.4" filter="url(#fb1)"/><ellipse cx="826.6" cy="304.3" rx="1.8" ry="2.1" fill="#ffd0d0" opacity="0.3" filter="url(#fb1)"/><ellipse cx="1050.6" cy="326.1" rx="2.5" ry="1.6" fill="#ffd0d0" opacity="0.5" filter="url(#fb1)"/><ellipse cx="796.5" cy="183.7" rx="6.3" ry="3.6" fill="#a00000" opacity="0.3" filter="url(#fb2)"/><ellipse cx="714.4" cy="250.7" rx="3.9" ry="4.4" fill="#a00000" opacity="0.6" filter="url(#fb2)"/><ellipse cx="1046.3" cy="370.9" rx="2.7" ry="1.6" fill="#ffd0d0" opacity="0.6" filter="url(#fb1)"/><ellipse cx="966.1" cy="339.8" rx="1.6" ry="2.7" fill="#ffd0d0" opacity="0.5" filter="url(#fb1)"/><ellipse cx="909.1" cy="267.8" rx="4.4" ry="2.8" fill="#a00000" opacity="0.4" filter="url(#fb2)"/><ellipse cx="764.1" cy="306.8" rx="3.3" ry="2.2" fill="#a00000" opacity="0.5" filter="url(#fb2)"/><ellipse cx="936.3" cy="313.3" rx="1.7" ry="2.9" fill="#ffd0d0" opacity="0.4" filter="url(#fb1)"/><ellipse cx="957.5" cy="281.1" rx="3.2" ry="1.8" fill="#ffd0d0" opacity="0.3" filter="url(#fb1)"/><ellipse cx="788.5" cy="283.1" rx="3.7" ry="4.1" fill="#a00000" opacity="0.4" filter="url(#fb2)"/></g>
<circle cx="909.9" cy="74.4" r="7.3" fill="#fff"/>
<circle cx="1073.5" cy="180.6" r="7.3" fill="#fff"/>
<circle cx="1146.7" cy="310.6" r="7.3" fill="#fff"/>
<text x="938.5" y="67.3" class="b" font-size="15" fill="#111" textLength="86.5" lengthAdjust="spacingAndGlyphs">Coquimbo</text>
<text x="1095.4" y="162.3" class="b" font-size="15.5" fill="#111" textLength="91.2" lengthAdjust="spacingAndGlyphs">Valparaíso</text>
<text x="1253.5" y="258.1" class="b" font-size="15.5" fill="#111" textLength="98.8" lengthAdjust="spacingAndGlyphs">Concepción</text>
<text x="1050" y="745.7" class="b" font-size="20.8" fill="#111" textLength="127" lengthAdjust="spacingAndGlyphs">DO (300m)</text>
<g transform="translate(684 218) rotate(-41)"><text x="0" y="0" class="b" font-size="22" fill="#111" textLength="73" lengthAdjust="spacingAndGlyphs">OMZ<tspan font-size="11.5">VOL</tspan></text><text x="84" y="0" class="b" font-size="23" fill="#111" textLength="42" lengthAdjust="spacingAndGlyphs">&lt;45</text><text x="130" y="0" font-family="Liberation Serif, serif" font-size="26" fill="#111" textLength="30" lengthAdjust="spacingAndGlyphs">&#956;M</text></g>
<line x1="575.6" y1="478" x2="567" y2="472.9" stroke="#777" stroke-width="1.0" />
<line x1="575.6" y1="150" x2="567" y2="144.9" stroke="#777" stroke-width="1.0" />
<text x="552.9" y="149.5" class="tk" font-size="14.5" textLength="8.9" lengthAdjust="spacingAndGlyphs">0</text>
<line x1="575.6" y1="215.6" x2="567" y2="210.5" stroke="#777" stroke-width="1.0" />
<text x="529.3" y="214.8" class="tk" font-size="14.5" textLength="32.5" lengthAdjust="spacingAndGlyphs">-100</text>
<line x1="575.6" y1="281.2" x2="567" y2="276.1" stroke="#777" stroke-width="1.0" />
<text x="529.3" y="281" class="tk" font-size="14.5" textLength="32.5" lengthAdjust="spacingAndGlyphs">-200</text>
<line x1="575.6" y1="346.8" x2="567" y2="341.7" stroke="#777" stroke-width="1.0" />
<text x="529.3" y="345.5" class="tk" font-size="14.5" textLength="32.5" lengthAdjust="spacingAndGlyphs">-300</text>
<line x1="575.6" y1="412.4" x2="567" y2="407.3" stroke="#777" stroke-width="1.0" />
<text x="529.3" y="411" class="tk" font-size="14.5" textLength="32.5" lengthAdjust="spacingAndGlyphs">-400</text>
<text transform="translate(518 298) rotate(-90)" text-anchor="middle" class="b" font-size="18" fill="#1a1a1a" textLength="95" lengthAdjust="spacingAndGlyphs">Depth [ m ]</text>
<line x1="575.6" y1="478" x2="566.4" y2="481.8" stroke="#777" stroke-width="1.0" />
<text x="561.2" y="498" class="tk" font-size="14.5" text-anchor="end" textLength="23.5" lengthAdjust="spacingAndGlyphs">-29</text>
<line x1="623.6" y1="506.7" x2="614.4" y2="510.5" stroke="#777" stroke-width="1.0" />
<text x="609.4" y="526.9" class="tk" font-size="14.5" text-anchor="end" textLength="23.5" lengthAdjust="spacingAndGlyphs">-30</text>
<line x1="671.7" y1="535.5" x2="662.5" y2="539.3" stroke="#777" stroke-width="1.0" />
<text x="657.6" y="555.7" class="tk" font-size="14.5" text-anchor="end" textLength="23.5" lengthAdjust="spacingAndGlyphs">-31</text>
<line x1="719.7" y1="564.2" x2="710.5" y2="568" stroke="#777" stroke-width="1.0" />
<text x="705.8" y="584.5" class="tk" font-size="14.5" text-anchor="end" textLength="23.5" lengthAdjust="spacingAndGlyphs">-32</text>
<line x1="767.8" y1="592.9" x2="758.6" y2="596.7" stroke="#777" stroke-width="1.0" />
<text x="754" y="613.4" class="tk" font-size="14.5" text-anchor="end" textLength="23.5" lengthAdjust="spacingAndGlyphs">-33</text>
<line x1="815.8" y1="621.6" x2="806.6" y2="625.4" stroke="#777" stroke-width="1.0" />
<text x="802.2" y="642.2" class="tk" font-size="14.5" text-anchor="end" textLength="23.5" lengthAdjust="spacingAndGlyphs">-34</text>
<line x1="863.8" y1="650.4" x2="854.6" y2="654.2" stroke="#777" stroke-width="1.0" />
<text x="850.4" y="671.1" class="tk" font-size="14.5" text-anchor="end" textLength="23.5" lengthAdjust="spacingAndGlyphs">-35</text>
<line x1="911.9" y1="679.1" x2="902.7" y2="682.9" stroke="#777" stroke-width="1.0" />
<text x="898.6" y="700" class="tk" font-size="14.5" text-anchor="end" textLength="23.5" lengthAdjust="spacingAndGlyphs">-36</text>
<line x1="959.9" y1="707.8" x2="950.7" y2="711.6" stroke="#777" stroke-width="1.0" />
<text x="946.8" y="728.8" class="tk" font-size="14.5" text-anchor="end" textLength="23.5" lengthAdjust="spacingAndGlyphs">-37</text>
<line x1="1008" y1="736.6" x2="998.8" y2="740.4" stroke="#777" stroke-width="1.0" />
<text x="995" y="757.7" class="tk" font-size="14.5" text-anchor="end" textLength="23.5" lengthAdjust="spacingAndGlyphs">-38</text>
<line x1="1056" y1="765.3" x2="1046.8" y2="769.1" stroke="#777" stroke-width="1.0" />
<text x="1043.2" y="786.5" class="tk" font-size="14.5" text-anchor="end" textLength="23.5" lengthAdjust="spacingAndGlyphs">-39</text>
<line x1="1104" y1="794" x2="1094.8" y2="797.8" stroke="#777" stroke-width="1.0" />
<text x="1091.4" y="815.4" class="tk" font-size="14.5" text-anchor="end" textLength="23.5" lengthAdjust="spacingAndGlyphs">-40</text>
<line x1="1104" y1="794" x2="1115" y2="799.8" stroke="#777" stroke-width="1.0" />
<text x="1119.8" y="816.5" class="tk" font-size="16" textLength="23.3" lengthAdjust="spacingAndGlyphs">-76</text>
<line x1="1162.1" y1="769.8" x2="1173.1" y2="775.6" stroke="#777" stroke-width="1.0" />
<text x="1177.3" y="792.5" class="tk" font-size="16" textLength="23.3" lengthAdjust="spacingAndGlyphs">-75</text>
<line x1="1220.2" y1="745.6" x2="1231.2" y2="751.4" stroke="#777" stroke-width="1.0" />
<text x="1234.9" y="768.6" class="tk" font-size="16" textLength="23.3" lengthAdjust="spacingAndGlyphs">-74</text>
<line x1="1278.3" y1="721.4" x2="1289.3" y2="727.2" stroke="#777" stroke-width="1.0" />
<text x="1292.4" y="744.6" class="tk" font-size="16" textLength="23.3" lengthAdjust="spacingAndGlyphs">-73</text>
<line x1="1336.4" y1="697.2" x2="1347.4" y2="703" stroke="#777" stroke-width="1.0" />
<text x="1350" y="720.7" class="tk" font-size="16" textLength="23.3" lengthAdjust="spacingAndGlyphs">-72</text>
<line x1="1394.4" y1="673" x2="1405.4" y2="678.8" stroke="#777" stroke-width="1.0" />
<text x="1407.5" y="696.8" class="tk" font-size="16" textLength="23.3" lengthAdjust="spacingAndGlyphs">-71</text>
<text transform="translate(674 619) rotate(36.5)" class="b" font-size="21" fill="#111" textLength="150" lengthAdjust="spacingAndGlyphs">Latitude [&#176;S]</text>
<text x="1220" y="818.4" class="b" font-size="21" fill="#111" textLength="177" lengthAdjust="spacingAndGlyphs">Longitude [&#176;W]</text>
<defs>
<clipPath id="oceanclip"><path d="M158 43.5 L253.5 43.5 L249 50 L246.8 57 L247 80 L246.5 95 L247.5 103 L252.5 110 L253.3 116 L253.3 124.2 L258.2 124.2 L258.2 132.4 L263 132.4 L263 140.7 L267.9 140.7 L267.9 148.9 L272.7 148.9 L272.7 157.1 L277.6 157.1 L277.6 165.3 L282.4 165.3 L282.4 173.6 L287.3 173.6 L287.3 181.8 L292.1 181.8 L292.1 190 L297 190 L303.6 196.5 L314.9 203.5 L331.8 212 L344.6 220.5 L353 227 L356 239 L357 262 L357 284 L351 316 L347 323.5 L343.3 341.2 L340.3 355.3 L340.8 378.3 L338.5 394.2 L331.8 410.1 L324.8 425 L321.2 433 L319 436.6 L318.8 436.5 L318.8 413.9 L311.7 413.9 L311.7 374.3 L306 374.3 L306 368.6 L301 368.6 L301 362 L296 362 L296 356 L292 356 L292 351.6 L297.5 351.6 L297.5 340 L297.5 331.1 L291.9 330.4 L291.9 326.1 L287.6 324.7 L287.6 320.5 L282 319 L282 314.1 L272.1 313.4 L272.1 309.2 L257.2 308.4 L257.2 303.5 L252.3 303.5 L252.3 293.6 L247.3 292.9 L247.3 266.7 L242.4 266.7 L242.4 261.8 L237.5 261.1 L237.5 256.1 L232.5 256.1 L232.5 251.2 L222.6 251.2 L222.6 246.3 L212.7 245.5 L212.7 241.3 L202.8 240.6 L202.8 235.7 L200 235.7 L200 235.7 L200 233 L193 233 L193 230.3 L186 230.3 L186 227.6 L179 227.6 L179 224.9 L172 224.9 L172 222.2 L165 222.2 L165 219.5 L158 219.5Z"/></clipPath>
<filter id="blurA" x="-50%" y="-50%" width="200%" height="200%"><feGaussianBlur stdDeviation="5"/></filter>
<filter id="blurA2" x="-50%" y="-50%" width="200%" height="200%"><feGaussianBlur stdDeviation="2.5"/></filter>
</defs>
<g clip-path="url(#oceanclip)"><rect x="150" y="40" width="215" height="430" fill="#0a14e6"/><path d="M140 30 L270 30 L270 150 C240 150 220 120 190 118 C170 116 160 125 140 128Z" fill="#0018ea" filter="url(#blurA)"/><path d="M140 30 L270 30 L270 120 C245 110 230 92 200 88 C175 84 165 92 140 95Z" fill="#0a38f0" filter="url(#blurA2)"/><path d="M140 30 L270 30 L270 95 C250 85 240 66 215 66 C190 66 170 72 140 74Z" fill="#0a5cf2" filter="url(#blurA2)"/><path d="M140 30 L270 30 L262 78 C245 68 238 56 222 52 C200 48 180 56 140 58Z" fill="#0a8cf4" filter="url(#blurA2)"/><path d="M140 30 L185 30 C178 42 165 50 140 56Z" fill="#00e8e0" filter="url(#blurA2)"/><path d="M232 30 L265 30 L262 72 C252 62 245 48 232 30Z" fill="#08c8f0" filter="url(#blurA2)"/><path d="M180 105 C215 95 250 120 268 150 C290 185 330 195 360 220 L360 255 C310 240 250 232 205 212 C175 195 172 140 180 105Z" fill="#0006c6" filter="url(#blurA)"/><path d="M205 125 C230 120 250 140 262 165 C280 190 300 200 320 210 C290 210 250 200 225 185 C205 170 200 145 205 125Z" fill="#0000b0" filter="url(#blurA)" opacity="0.7"/><path d="M150 140 C165 150 175 175 160 200 L150 210Z" fill="#0010e8" filter="url(#blurA)"/><path d="M140 185 C150 187.5 184.2 193.8 200 200 C215.8 206.2 224.7 215.7 235 222 C245.3 228.3 252.8 233.2 262 238 C271.2 242.8 283.7 244 290 251 C296.3 258 293 271.8 300 280 C307 288.2 323.3 291.7 332 300 C340.7 308.3 347.7 300 352 330 C356.3 360 357 455 358 480 L345 490 L140 490 L140 185 Z" fill="#0a50f0" filter="url(#blurA2)"/><path d="M140 195 C150 197.5 185.3 204.2 200 210 C214.7 215.8 216.3 223.2 228 230 C239.7 236.8 260.5 244.3 270 251 C279.5 257.7 280 263.2 285 270 C290 276.8 293.3 284.5 300 292 C306.7 299.5 318 307.3 325 315 C332 322.7 337.8 330.5 342 338 C346.2 345.5 348 336.3 350 360 C352 383.7 353.3 460 354 480 L345 490 L140 490 L140 195 Z" fill="#0a9cf5" filter="url(#blurA2)"/><path d="M140 203 C150 205.8 185 214.5 200 220 C215 225.5 219.7 230.8 230 236 C240.3 241.2 255.3 244.5 262 251 C268.7 257.5 265.3 266.8 270 275 C274.7 283.2 282.7 292.8 290 300 C297.3 307.2 307 310.5 314 318 C321 325.5 327.7 334.7 332 345 C336.3 355.3 338 367.5 340 380 C342 392.5 343 403.3 344 420 C345 436.7 345.7 470 346 480 L345 490 L140 490 L140 203 Z" fill="#00eef2" filter="url(#blurA2)"/><path d="M140 210 C150 213 183 222.3 200 228 C217 233.7 232.3 238.3 242 244 C251.7 249.7 254.3 255.2 258 262 C261.7 268.8 257.3 276.2 264 285 C270.7 293.8 289 305 298 315 C307 325 313.7 334.2 318 345 C322.3 355.8 322.7 367.5 324 380 C325.3 392.5 325.3 403.3 326 420 C326.7 436.7 327.7 470 328 480 L345 490 L140 490 L140 210 Z" fill="#10d8b0" filter="url(#blurA2)"/><path d="M140 216 C150 219 183.3 228.3 200 234 C216.7 239.7 231.3 244 240 250 C248.7 256 249 262.5 252 270 C255 277.5 251.7 286.7 258 295 C264.3 303.3 281.3 310.5 290 320 C298.7 329.5 306 338.7 310 352 C314 365.3 312.7 378.7 314 400 C315.3 421.3 317.3 466.7 318 480 L345 490 L140 490 L140 216 Z" fill="#10b880" filter="url(#blurA2)"/><path d="M140 222 C150 225 184 234 200 240 C216 246 228 250.5 236 258 C244 265.5 244.8 278 248 285 C251.2 292 249.2 292.5 255 300 C260.8 307.5 275.5 320 283 330 C290.5 340 295.8 348.3 300 360 C304.2 371.7 306 380 308 400 C310 420 311.3 466.7 312 480 L345 490 L140 490 L140 222 Z" fill="#0aa070" filter="url(#blurA2)"/><path d="M275 262 C292 268 305 264 322 272 C338 282 344 300 342 318 C330 306 318 300 304 294 C290 288 280 278 275 262Z" fill="#0a58f0" filter="url(#blurA2)"/></g>
<path d="M254.2 43.5 L249.5 51 L248.5 57 L252 62 L256.5 68 L255.5 73 L249 79 L246.5 86 L246.5 95 L248.5 102 L255 108 L256.6 110.8 L264.9 122.3 L272.5 136 L276.7 151.3 L282.4 159.8 L289.5 169.7 L293.7 176.7 L296.5 185.2 L303.6 196.5 L314.9 205 L331.8 213.5 L344.6 222 L353 227.6 L355.2 238.9 L355.9 260 L356.2 284 L348.6 320 L342.4 339.4 L339.8 360.6 L340.7 387.1 L333.6 406.6 L326.5 420.7 L321.2 434.8 L323 447.2 L321.2 465.5 L357.7 465.5 L357.7 43.5Z" fill="#000"/>
<line x1="158" y1="246" x2="357.5" y2="246" stroke="#555" stroke-width="0.9" stroke-dasharray="1.3 2.6"/>
<line x1="158" y1="352" x2="357.5" y2="352" stroke="#555" stroke-width="0.9" stroke-dasharray="1.3 2.6"/>
<line x1="257.7" y1="43.5" x2="257.7" y2="465.5" stroke="#444" stroke-width="0.9" stroke-dasharray="1.3 2.6"/>
<line x1="158" y1="144" x2="357.5" y2="144" stroke="#333" stroke-width="0.9" stroke-dasharray="1.3 2.6"/>
<line x1="158" y1="43.5" x2="158" y2="465.5" stroke="#bbb" stroke-width="1"/>
<line x1="152" y1="43.5" x2="363" y2="43.5" stroke="#888" stroke-width="1"/>
<line x1="152" y1="465.5" x2="363" y2="465.5" stroke="#888" stroke-width="1"/>
<line x1="152" y1="144" x2="158" y2="144" stroke="#999" stroke-width="1"/>
<line x1="357.5" y1="144" x2="363" y2="144" stroke="#999" stroke-width="1"/>
<line x1="152" y1="246" x2="158" y2="246" stroke="#999" stroke-width="1"/>
<line x1="357.5" y1="246" x2="363" y2="246" stroke="#999" stroke-width="1"/>
<line x1="152" y1="352" x2="158" y2="352" stroke="#999" stroke-width="1"/>
<line x1="357.5" y1="352" x2="363" y2="352" stroke="#999" stroke-width="1"/>
<line x1="158" y1="465.5" x2="158" y2="472" stroke="#999" stroke-width="1"/>
<line x1="158" y1="37" x2="158" y2="43.5" stroke="#999" stroke-width="1"/>
<line x1="257.7" y1="465.5" x2="257.7" y2="472" stroke="#999" stroke-width="1"/>
<line x1="257.7" y1="37" x2="257.7" y2="43.5" stroke="#999" stroke-width="1"/>
<line x1="357.5" y1="465.5" x2="357.5" y2="472" stroke="#999" stroke-width="1"/>
<line x1="357.5" y1="37" x2="357.5" y2="43.5" stroke="#999" stroke-width="1"/>
<path d="M287.5 341.2 L343 341.2 M287.5 341.2 L287.5 453.5 L325 453.5" fill="none" stroke="#000" stroke-width="1.7"/>
<text x="126.4" y="51.4" class="r" font-size="14.2" fill="#111" textLength="8.1" lengthAdjust="spacingAndGlyphs">0</text>
<text x="134.7" y="46.2" class="r" font-size="11" fill="#111">o</text>
<text x="113.2" y="151.7" class="r" font-size="14.2" fill="#111" textLength="16.2" lengthAdjust="spacingAndGlyphs">10</text>
<text x="129.6" y="146.5" class="r" font-size="11" fill="#111">o</text>
<text x="135.6" y="151.7" class="r" font-size="14.2" fill="#111">S</text>
<text x="113.2" y="253.5" class="r" font-size="14.2" fill="#111" textLength="16.2" lengthAdjust="spacingAndGlyphs">20</text>
<text x="129.6" y="248.3" class="r" font-size="11" fill="#111">o</text>
<text x="135.6" y="253.5" class="r" font-size="14.2" fill="#111">S</text>
<text x="113.2" y="359.5" class="r" font-size="14.2" fill="#111" textLength="16.2" lengthAdjust="spacingAndGlyphs">30</text>
<text x="129.6" y="354.3" class="r" font-size="11" fill="#111">o</text>
<text x="135.6" y="359.5" class="r" font-size="14.2" fill="#111">S</text>
<text x="112.9" y="472.9" class="r" font-size="14.2" fill="#111" textLength="16.2" lengthAdjust="spacingAndGlyphs">40</text>
<text x="129.3" y="467.7" class="r" font-size="11" fill="#111">o</text>
<text x="135.3" y="472.9" class="r" font-size="14.2" fill="#111">S</text>
<text x="140.4" y="491.1" class="r" font-size="14.2" fill="#111" textLength="16.2" lengthAdjust="spacingAndGlyphs">90</text>
<text x="156.8" y="485.9" class="r" font-size="11" fill="#111">o</text>
<text x="162.9" y="491.1" class="r" font-size="14.2" fill="#111">W</text>
<text x="240.1" y="491.1" class="r" font-size="14.2" fill="#111" textLength="16.2" lengthAdjust="spacingAndGlyphs">80</text>
<text x="256.5" y="485.9" class="r" font-size="11" fill="#111">o</text>
<text x="262.6" y="491.1" class="r" font-size="14.2" fill="#111">W</text>
<text x="340" y="491.1" class="r" font-size="14.2" fill="#111" textLength="16.2" lengthAdjust="spacingAndGlyphs">70</text>
<text x="356.4" y="485.9" class="r" font-size="11" fill="#111">o</text>
<text x="362.5" y="491.1" class="r" font-size="14.2" fill="#111">W</text>
<text x="254" y="98.5" class="b" font-size="15" fill="#fff" textLength="98" lengthAdjust="spacingAndGlyphs">DO (300m)</text>
<text x="176" y="197.2" class="b" font-size="20.5" fill="#fff" textLength="104.5" lengthAdjust="spacingAndGlyphs">ESP-OMZ</text>
<text x="163.5" y="391.7" class="b" font-size="14.3" fill="#111" textLength="119.2" lengthAdjust="spacingAndGlyphs">Extra-tropical</text>
<text x="194.8" y="411.9" class="b" font-size="14.5" fill="#111" textLength="37.1" lengthAdjust="spacingAndGlyphs">OMZ</text>
<defs><linearGradient id="cbar" x1="0" y1="1" x2="0" y2="0"><stop offset="0" stop-color="#000018"/><stop offset="0.04" stop-color="#000050"/><stop offset="0.1" stop-color="#0000f0"/><stop offset="0.16" stop-color="#0a80ff"/><stop offset="0.215" stop-color="#00ffff"/><stop offset="0.26" stop-color="#00e0d0"/><stop offset="0.31" stop-color="#00c090"/><stop offset="0.37" stop-color="#00905a"/><stop offset="0.425" stop-color="#006a10"/><stop offset="0.48" stop-color="#108a18"/><stop offset="0.535" stop-color="#30a020"/><stop offset="0.62" stop-color="#a8d000"/><stop offset="0.69" stop-color="#ffff00"/><stop offset="0.76" stop-color="#ffd800"/><stop offset="0.82" stop-color="#ffc000"/><stop offset="0.92" stop-color="#ff9000"/><stop offset="1" stop-color="#ff5a00"/></linearGradient></defs>
<rect x="408" y="119" width="24" height="269" fill="url(#cbar)"/>
<rect x="408" y="119" width="24" height="269" fill="none" stroke="#999" stroke-width="0.6"/>
<line x1="408" y1="119" x2="411" y2="119" stroke="#777" stroke-width="0.8"/><line x1="429" y1="119" x2="432" y2="119" stroke="#777" stroke-width="0.8"/>
<text x="403.5" y="123.8" text-anchor="end" class="b" font-size="13" fill="#111" textLength="25.8" lengthAdjust="spacingAndGlyphs">120</text>
<line x1="408" y1="187" x2="411" y2="187" stroke="#777" stroke-width="0.8"/><line x1="429" y1="187" x2="432" y2="187" stroke="#777" stroke-width="0.8"/>
<text x="403.5" y="191.8" text-anchor="end" class="b" font-size="13" fill="#111" textLength="17.2" lengthAdjust="spacingAndGlyphs">90</text>
<line x1="408" y1="254" x2="411" y2="254" stroke="#777" stroke-width="0.8"/><line x1="429" y1="254" x2="432" y2="254" stroke="#777" stroke-width="0.8"/>
<text x="403.5" y="258.8" text-anchor="end" class="b" font-size="13" fill="#111" textLength="17.2" lengthAdjust="spacingAndGlyphs">60</text>
<line x1="408" y1="288" x2="411" y2="288" stroke="#777" stroke-width="0.8"/><line x1="429" y1="288" x2="432" y2="288" stroke="#777" stroke-width="0.8"/>
<text x="403.5" y="292.8" text-anchor="end" class="b" font-size="13" fill="#111" textLength="17.2" lengthAdjust="spacingAndGlyphs">45</text>
<line x1="408" y1="343" x2="411" y2="343" stroke="#777" stroke-width="0.8"/><line x1="429" y1="343" x2="432" y2="343" stroke="#777" stroke-width="0.8"/>
<text x="403.5" y="347.8" text-anchor="end" class="b" font-size="13" fill="#111" textLength="17.2" lengthAdjust="spacingAndGlyphs">20</text>
<line x1="408" y1="388" x2="411" y2="388" stroke="#777" stroke-width="0.8"/><line x1="429" y1="388" x2="432" y2="388" stroke="#777" stroke-width="0.8"/>
<text x="403.5" y="392.8" text-anchor="end" class="b" font-size="13" fill="#111" textLength="8.6" lengthAdjust="spacingAndGlyphs">0</text>
<text x="401" y="423" font-family="Liberation Serif, serif" font-size="27" fill="#111" textLength="43" lengthAdjust="spacingAndGlyphs"><tspan font-weight="bold">&#956;</tspan>M</text>
<rect x="220.1" y="543.5" width="49.6" height="253.5" fill="#cbcbcb"/>
<rect x="517.4" y="543.5" width="49.6" height="253.5" fill="#cbcbcb"/>
<line x1="170.5" y1="543.5" x2="170.5" y2="797.0" stroke="#e6e6e6" stroke-width="1"/>
<line x1="616.5" y1="543.5" x2="616.5" y2="797.0" stroke="#c8c8c8" stroke-width="1"/>
<line x1="164" y1="543.5" x2="617.5" y2="543.5" stroke="#a9a9a9" stroke-width="1.2"/>
<line x1="170.5" y1="670.2" x2="616.5" y2="670.2" stroke="#bdbdbd" stroke-width="0.8"/>
<line x1="170.5" y1="537.0" x2="170.5" y2="543.5" stroke="#d0d0d0" stroke-width="0.9"/>
<line x1="170.5" y1="797.0" x2="170.5" y2="803.5" stroke="#d0d0d0" stroke-width="0.9"/>
<text x="170.5" y="818.6" class="tk" text-anchor="middle" font-size="10.5" textLength="23.5" lengthAdjust="spacingAndGlyphs">2000</text>
<line x1="220.1" y1="537.0" x2="220.1" y2="543.5" stroke="#d0d0d0" stroke-width="0.9"/>
<line x1="220.1" y1="797.0" x2="220.1" y2="803.5" stroke="#d0d0d0" stroke-width="0.9"/>
<text x="220.1" y="818.6" class="tk" text-anchor="middle" font-size="10.5" textLength="23.5" lengthAdjust="spacingAndGlyphs">2001</text>
<line x1="269.6" y1="537.0" x2="269.6" y2="543.5" stroke="#d0d0d0" stroke-width="0.9"/>
<line x1="269.6" y1="797.0" x2="269.6" y2="803.5" stroke="#d0d0d0" stroke-width="0.9"/>
<text x="269.6" y="818.6" class="tk" text-anchor="middle" font-size="10.5" textLength="23.5" lengthAdjust="spacingAndGlyphs">2002</text>
<line x1="319.2" y1="537.0" x2="319.2" y2="543.5" stroke="#d0d0d0" stroke-width="0.9"/>
<line x1="319.2" y1="797.0" x2="319.2" y2="803.5" stroke="#d0d0d0" stroke-width="0.9"/>
<text x="319.2" y="818.6" class="tk" text-anchor="middle" font-size="10.5" textLength="23.5" lengthAdjust="spacingAndGlyphs">2003</text>
<line x1="368.7" y1="537.0" x2="368.7" y2="543.5" stroke="#d0d0d0" stroke-width="0.9"/>
<line x1="368.7" y1="797.0" x2="368.7" y2="803.5" stroke="#d0d0d0" stroke-width="0.9"/>
<text x="368.7" y="818.6" class="tk" text-anchor="middle" font-size="10.5" textLength="23.5" lengthAdjust="spacingAndGlyphs">2004</text>
<line x1="418.3" y1="537.0" x2="418.3" y2="543.5" stroke="#d0d0d0" stroke-width="0.9"/>
<line x1="418.3" y1="797.0" x2="418.3" y2="803.5" stroke="#d0d0d0" stroke-width="0.9"/>
<text x="418.3" y="818.6" class="tk" text-anchor="middle" font-size="10.5" textLength="23.5" lengthAdjust="spacingAndGlyphs">2005</text>
<line x1="467.8" y1="537.0" x2="467.8" y2="543.5" stroke="#d0d0d0" stroke-width="0.9"/>
<line x1="467.8" y1="797.0" x2="467.8" y2="803.5" stroke="#d0d0d0" stroke-width="0.9"/>
<text x="467.8" y="818.6" class="tk" text-anchor="middle" font-size="10.5" textLength="23.5" lengthAdjust="spacingAndGlyphs">2006</text>
<line x1="517.4" y1="537.0" x2="517.4" y2="543.5" stroke="#d0d0d0" stroke-width="0.9"/>
<line x1="517.4" y1="797.0" x2="517.4" y2="803.5" stroke="#d0d0d0" stroke-width="0.9"/>
<text x="517.4" y="818.6" class="tk" text-anchor="middle" font-size="10.5" textLength="23.5" lengthAdjust="spacingAndGlyphs">2007</text>
<line x1="566.9" y1="537.0" x2="566.9" y2="543.5" stroke="#d0d0d0" stroke-width="0.9"/>
<line x1="566.9" y1="797.0" x2="566.9" y2="803.5" stroke="#d0d0d0" stroke-width="0.9"/>
<text x="566.9" y="818.6" class="tk" text-anchor="middle" font-size="10.5" textLength="23.5" lengthAdjust="spacingAndGlyphs">2008</text>
<line x1="616.5" y1="537.0" x2="616.5" y2="543.5" stroke="#d0d0d0" stroke-width="0.9"/>
<line x1="616.5" y1="797.0" x2="616.5" y2="803.5" stroke="#d0d0d0" stroke-width="0.9"/>
<text x="616.5" y="818.6" class="tk" text-anchor="middle" font-size="10.5" textLength="23.5" lengthAdjust="spacingAndGlyphs">2009</text>
<text x="335.2" y="838.1" class="b" font-size="14.8" fill="#111" textLength="111.6" lengthAdjust="spacingAndGlyphs">Time [Years]</text>
<line x1="164.3" y1="543.5" x2="170.3" y2="543.5" stroke="#c8c8c8" stroke-width="0.9"/>
<text x="154.1" y="547.7" class="tk" font-size="11" textLength="6.2" lengthAdjust="spacingAndGlyphs">2</text>
<line x1="164.3" y1="575.2" x2="170.3" y2="575.2" stroke="#c8c8c8" stroke-width="0.9"/>
<text x="146.1" y="579.4" class="tk" font-size="11" textLength="14.2" lengthAdjust="spacingAndGlyphs">1.5</text>
<line x1="164.3" y1="606.9" x2="170.3" y2="606.9" stroke="#c8c8c8" stroke-width="0.9"/>
<text x="154.1" y="611.1" class="tk" font-size="11" textLength="6.2" lengthAdjust="spacingAndGlyphs">1</text>
<line x1="164.3" y1="638.6" x2="170.3" y2="638.6" stroke="#c8c8c8" stroke-width="0.9"/>
<text x="146.1" y="642.8" class="tk" font-size="11" textLength="14.2" lengthAdjust="spacingAndGlyphs">0.5</text>
<line x1="164.3" y1="670.2" x2="170.3" y2="670.2" stroke="#c8c8c8" stroke-width="0.9"/>
<text x="154.1" y="674.5" class="tk" font-size="11" textLength="6.2" lengthAdjust="spacingAndGlyphs">0</text>
<line x1="164.3" y1="701.9" x2="170.3" y2="701.9" stroke="#c8c8c8" stroke-width="0.9"/>
<text x="141.7" y="706.1" class="tk" font-size="11" textLength="18.6" lengthAdjust="spacingAndGlyphs">-0.5</text>
<line x1="164.3" y1="733.6" x2="170.3" y2="733.6" stroke="#c8c8c8" stroke-width="0.9"/>
<text x="149.7" y="737.8" class="tk" font-size="11" textLength="10.6" lengthAdjust="spacingAndGlyphs">-1</text>
<line x1="164.3" y1="765.3" x2="170.3" y2="765.3" stroke="#c8c8c8" stroke-width="0.9"/>
<text x="141.7" y="769.5" class="tk" font-size="11" textLength="18.6" lengthAdjust="spacingAndGlyphs">-1.5</text>
<line x1="164.3" y1="797" x2="170.3" y2="797" stroke="#c8c8c8" stroke-width="0.9"/>
<text x="149.7" y="801.2" class="tk" font-size="11" textLength="10.6" lengthAdjust="spacingAndGlyphs">-2</text>
<text x="172.3" y="540.7" font-size="10.5" fill="#222" class="r">&#215;</text><text x="180.5" y="540.7" font-size="10.5" fill="#222" class="r" textLength="9.6" lengthAdjust="spacingAndGlyphs">10</text><text x="190.8" y="535.8" font-size="7" fill="#222" class="r">4</text>
<line x1="59.4" y1="543.5" x2="59.4" y2="797.0" stroke="#f4b0b0" stroke-width="1"/>
<line x1="56" y1="543.5" x2="59.4" y2="543.5" stroke="#f4b0b0" stroke-width="0.9"/>
<text x="51.8" y="547.4" fill="#e8191c" class="b" text-anchor="end" font-size="10.5">-2</text>
<line x1="56" y1="575.2" x2="59.4" y2="575.2" stroke="#f4b0b0" stroke-width="0.9"/>
<text x="51.8" y="579.1" fill="#e8191c" class="b" text-anchor="end" font-size="10.5">-1.5</text>
<line x1="56" y1="606.9" x2="59.4" y2="606.9" stroke="#f4b0b0" stroke-width="0.9"/>
<text x="51.8" y="610.8" fill="#e8191c" class="b" text-anchor="end" font-size="10.5">-1</text>
<line x1="56" y1="638.6" x2="59.4" y2="638.6" stroke="#f4b0b0" stroke-width="0.9"/>
<text x="51.8" y="642.5" fill="#e8191c" class="b" text-anchor="end" font-size="10.5">-0.5</text>
<line x1="56" y1="670.2" x2="59.4" y2="670.2" stroke="#f4b0b0" stroke-width="0.9"/>
<text x="51.8" y="674.1" fill="#e8191c" class="b" text-anchor="end" font-size="10.5">0</text>
<line x1="56" y1="701.9" x2="59.4" y2="701.9" stroke="#f4b0b0" stroke-width="0.9"/>
<text x="51.8" y="705.8" fill="#e8191c" class="b" text-anchor="end" font-size="10.5">0.5</text>
<line x1="56" y1="733.6" x2="59.4" y2="733.6" stroke="#f4b0b0" stroke-width="0.9"/>
<text x="51.8" y="737.5" fill="#e8191c" class="b" text-anchor="end" font-size="10.5">1</text>
<line x1="56" y1="765.3" x2="59.4" y2="765.3" stroke="#f4b0b0" stroke-width="0.9"/>
<text x="51.8" y="769.2" fill="#e8191c" class="b" text-anchor="end" font-size="10.5">1.5</text>
<line x1="56" y1="797" x2="59.4" y2="797" stroke="#f4b0b0" stroke-width="0.9"/>
<text x="51.8" y="800.9" fill="#e8191c" class="b" text-anchor="end" font-size="10.5">2</text>
<line x1="114.4" y1="543.5" x2="114.4" y2="797.0" stroke="#b0b0f4" stroke-width="1"/>
<line x1="111" y1="543.5" x2="114.4" y2="543.5" stroke="#b0b0f4" stroke-width="0.9"/>
<text x="106.5" y="547.5" fill="#1a1ad8" class="b" text-anchor="end" font-size="11">3</text>
<line x1="111" y1="585.8" x2="114.4" y2="585.8" stroke="#b0b0f4" stroke-width="0.9"/>
<text x="106.5" y="589.8" fill="#1a1ad8" class="b" text-anchor="end" font-size="11">2</text>
<line x1="111" y1="628" x2="114.4" y2="628" stroke="#b0b0f4" stroke-width="0.9"/>
<text x="106.5" y="632" fill="#1a1ad8" class="b" text-anchor="end" font-size="11">1</text>
<line x1="111" y1="670.2" x2="114.4" y2="670.2" stroke="#b0b0f4" stroke-width="0.9"/>
<text x="106.5" y="674.2" fill="#1a1ad8" class="b" text-anchor="end" font-size="11">0</text>
<line x1="111" y1="712.5" x2="114.4" y2="712.5" stroke="#b0b0f4" stroke-width="0.9"/>
<text x="106.5" y="716.5" fill="#1a1ad8" class="b" text-anchor="end" font-size="11">-1</text>
<line x1="111" y1="754.8" x2="114.4" y2="754.8" stroke="#b0b0f4" stroke-width="0.9"/>
<text x="106.5" y="758.8" fill="#1a1ad8" class="b" text-anchor="end" font-size="11">-2</text>
<line x1="111" y1="797" x2="114.4" y2="797" stroke="#b0b0f4" stroke-width="0.9"/>
<text x="106.5" y="801" fill="#1a1ad8" class="b" text-anchor="end" font-size="11">-3</text>
<text transform="translate(29.4 670.2) rotate(-90)" text-anchor="middle" fill="#e8191c" class="b" font-size="12" textLength="78" lengthAdjust="spacingAndGlyphs">C indice [ &#176;C ]</text>
<text transform="translate(87.8 669.6) rotate(-90)" text-anchor="middle" fill="#1a1ad8" class="b" font-size="12" textLength="79" lengthAdjust="spacingAndGlyphs">OMZ<tspan font-size="9" dy="4">DO</tspan><tspan dy="-4"> [ </tspan><tspan font-style="italic" font-weight="normal">&#956;</tspan><tspan>M ]</tspan></text>
<text transform="translate(132 669.8) rotate(-90)" text-anchor="middle" fill="#111" class="r" font-size="12" textLength="86.7" lengthAdjust="spacingAndGlyphs">OMZ<tspan font-size="9" dy="4">VOL</tspan><tspan dy="-4"> [ km</tspan><tspan font-size="8.5" dy="-6">3</tspan><tspan dy="6"> ]</tspan></text>
<path d="M170.5 784.5 C172.1 779.5 176.1 764.8 179.8 754.2 C183.6 743.7 188.9 728.4 193 721.2 C197.1 714.1 199.8 713.2 204.5 711.3 C209.2 709.4 215.2 713 221 709.7 C226.8 706.4 234.7 695.2 239.1 691.5 C243.5 687.8 243.6 688.7 247.4 687.6 C251.2 686.5 258.1 686.8 262.2 685 C266.3 683.2 267.7 683.3 272.1 676.7 C276.5 670.1 282.6 655.3 288.6 645.4 C294.7 635.5 303.5 620.7 308.4 617.4 C313.3 614.1 314.6 620.5 318.2 625.6 C321.8 630.7 326 641.9 330 648 C334 654.1 338 659.8 342 662.5 C346 665.2 350.3 664.7 354 664.5 C357.7 664.3 359.2 662.8 364.4 661.5 C369.6 660.2 377.9 659.7 385.3 656.5 C392.7 653.3 400.2 641.6 408.6 642.1 C417 642.6 426 649.2 435.7 659.6 C445.4 670 458.9 699 466.7 704.2 C474.4 709.4 475.4 700.8 482.2 690.6 C489 680.5 500.9 649.4 507.4 643.3 C513.9 637.2 514.2 642 521 653.8 C527.8 665.6 541.1 696.8 548.2 713.9 C555.3 731 558.5 752 563.7 756.5 C568.9 761 573.7 749.4 579.2 741 C584.7 732.6 590.9 707.1 596.6 706.1 C602.3 705.1 610.5 730.4 613.3 735.2" fill="none" stroke="#e3332f" stroke-width="1.3"/>
<path d="M170.5 739.3 C172.1 742.3 175.8 752.7 179.8 757.5 C183.8 762.3 189.7 768.5 194.6 768 C199.5 767.5 204.3 761.5 209.5 754.2 C214.7 747 220.4 736 225.9 724.5 C231.4 713 238 694.3 242.4 685 C246.8 675.7 248.5 669 252.3 668.5 C256.2 668 261.4 675.9 265.5 681.7 C269.6 687.5 273.1 702.6 277 703.1 C280.9 703.6 283.9 695.5 288.6 685 C293.3 674.5 299.1 655.2 305.1 640.4 C311.1 625.5 318.5 607.1 324.8 595.9 C331.1 584.6 337.5 574 343 572.9 C348.5 571.8 352 579.4 357.8 589.3 C363.6 599.2 371.7 618.6 377.6 632.2 C383.5 645.9 386 651.8 393.1 671.2 C400.2 690.6 411.8 746.8 420.2 748.8 C428.6 750.8 436.4 702 443.5 682.9 C450.6 663.8 457.1 638.2 462.9 634.4 C468.6 630.6 472.8 649.3 478 660 C483.2 670.7 488.7 697.2 493.9 698.4 C499.1 699.6 504.7 683.7 509.4 667.3 C514.1 650.9 517.4 619.6 522 600 C526.6 580.4 532 555.1 537 549.5 C542 543.9 546.9 554.6 552 566.5 C557.1 578.4 560.4 592.7 567.5 620.8 C574.6 648.9 587.1 722.9 594.7 735.2 C602.3 747.5 610.2 701.3 613.3 694.5" fill="none" stroke="#3b3bd9" stroke-width="1.4" stroke-dasharray="6 4"/>
<path d="M170.5 659.2 C172.1 655.8 176.1 645.6 179.8 638.8 C183.6 632 188.6 625 193 618.4 C197.4 611.8 201.5 606.2 206.2 599.2 C210.9 592.2 216.9 581.3 221 576.2 C225.1 571.1 227.9 569.2 230.9 568.6 C233.9 568 234.7 568.1 239.1 572.9 C243.5 577.7 251.8 590.5 257.3 597.6 C262.8 604.7 267.2 608 272.1 615.7 C277 623.4 282.5 636.3 286.9 643.7 C291.3 651.1 294.4 656.4 298.5 660.2 C302.6 664.1 307.3 663.2 311.7 666.8 C316.1 670.4 320.1 677.3 324.8 681.7 C329.5 686.1 334.8 691.5 339.7 693.2 C344.6 695 349.3 688.6 354.5 692.2 C359.7 695.8 364.9 708.1 371 714.6 C377.1 721.1 384.6 731.1 391.1 731.3 C397.6 731.5 403.9 722.1 410 716 C416.1 709.9 422.2 696.8 428 694.5 C433.8 692.2 439.2 697.5 445 702 C450.8 706.5 457.1 721.9 462.9 721.6 C468.7 721.3 473.6 711.6 480 700 C486.4 688.4 495.4 654.6 501.6 651.8 C507.8 648.9 512.4 671.9 517.1 682.9 C521.8 693.9 525.1 709 530 718 C534.9 727 540.6 736.5 546.2 737.1 C551.8 737.7 558.6 729.8 563.7 721.6 C568.8 713.4 572.5 698.9 577 688 C581.5 677.1 586.6 659.8 590.8 656.5 C595 653.2 598.2 661.4 602 668 C605.8 674.6 611.4 691.7 613.3 696.4" fill="none" stroke="#000" stroke-width="2.6"/>
</svg>
</body></html>
